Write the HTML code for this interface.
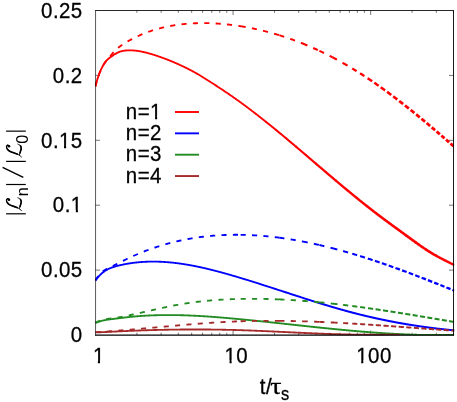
<!DOCTYPE html>
<html><head><meta charset="utf-8"><title>plot</title>
<style>html,body{margin:0;padding:0;background:#fff;width:457px;height:402px;overflow:hidden}</style></head>
<body>
<svg width="457" height="402" viewBox="0 0 457 402" style="position:absolute;left:0;top:0">
<rect width="457" height="402" fill="#fff"/>
<defs><filter id="idf" filterUnits="userSpaceOnUse" x="0" y="0" width="457" height="402"><feOffset dx="0" dy="0"/></filter><clipPath id="cp"><rect x="95.0" y="8.5" width="359.4" height="327.1"/></clipPath></defs>
<path d="M95.50,270.10 h4.5 M453.50,270.10 h-4.5 M95.50,205.20 h4.5 M453.50,205.20 h-4.5 M95.50,140.30 h4.5 M453.50,140.30 h-4.5 M95.50,75.40 h4.5 M453.50,75.40 h-4.5 M136.92,335.00 v-2.3 M136.92,10.50 v2.3 M161.14,335.00 v-2.3 M161.14,10.50 v2.3 M178.33,335.00 v-2.3 M178.33,10.50 v2.3 M191.67,335.00 v-2.3 M191.67,10.50 v2.3 M202.56,335.00 v-2.3 M202.56,10.50 v2.3 M211.77,335.00 v-2.3 M211.77,10.50 v2.3 M219.75,335.00 v-2.3 M219.75,10.50 v2.3 M226.79,335.00 v-2.3 M226.79,10.50 v2.3 M233.08,335.00 v-4.5 M233.08,10.50 v4.5 M274.50,335.00 v-2.3 M274.50,10.50 v2.3 M298.73,335.00 v-2.3 M298.73,10.50 v2.3 M315.92,335.00 v-2.3 M315.92,10.50 v2.3 M329.25,335.00 v-2.3 M329.25,10.50 v2.3 M340.14,335.00 v-2.3 M340.14,10.50 v2.3 M349.35,335.00 v-2.3 M349.35,10.50 v2.3 M357.33,335.00 v-2.3 M357.33,10.50 v2.3 M364.37,335.00 v-2.3 M364.37,10.50 v2.3 M370.67,335.00 v-4.5 M370.67,10.50 v4.5 M412.08,335.00 v-2.3 M412.08,10.50 v2.3 M436.31,335.00 v-2.3 M436.31,10.50 v2.3 M453.50,335.00 v-2.3 M453.50,10.50 v2.3" stroke="#000" stroke-width="0.55" fill="none"/>
<g clip-path="url(#cp)">
<path d="M95.50,86.41 L95.50,86.41 L95.90,84.71 L96.30,83.12 L96.70,81.62 L97.10,80.21 L97.50,78.89 L97.90,77.64 L98.29,76.46 L98.69,75.33 L99.09,74.26 L99.49,73.23 L99.89,72.24 L100.29,71.28 L100.69,70.36 L101.09,69.48 L101.49,68.63 L101.89,67.81 L102.29,67.02 L102.69,66.27 L103.09,65.55 L103.48,64.86 L103.88,64.21 L104.28,63.58 L104.68,62.99 L105.08,62.43 L105.48,61.89 L105.88,61.38 L106.10,61.12 M105.50,61.87 L105.88,61.38 L106.28,60.90 L106.68,60.45 L107.08,60.02 L107.48,59.62 L107.88,59.24 L108.28,58.89 L108.67,58.55 L109.07,58.22 L109.47,57.91 L109.87,57.60 L110.27,57.30 L110.67,57.01 L111.07,56.72 L111.47,56.43 L111.87,56.15 L112.27,55.88 L112.67,55.61 L113.07,55.35 L113.46,55.09 L113.86,54.83 L114.26,54.58 L114.66,54.33 L115.06,54.09 L115.46,53.85 L115.86,53.62 L116.10,53.48 M115.50,53.83 L115.86,53.62 L116.26,53.39 L116.66,53.17 L117.06,52.95 L117.46,52.74 L117.86,52.55 L118.26,52.36 L118.65,52.19 L119.05,52.02 L119.45,51.87 L119.85,51.72 L120.25,51.59 L120.65,51.46 L121.05,51.34 L121.45,51.24 L121.85,51.13 L122.25,51.04 L122.65,50.96 L123.05,50.88 L123.45,50.81 L123.84,50.74 L124.24,50.68 L124.64,50.63 L125.04,50.58 L125.44,50.54 L125.84,50.51 L126.10,50.48 M125.50,50.54 L125.84,50.51 L126.24,50.47 L126.64,50.44 L127.04,50.42 L127.44,50.40 L127.84,50.38 L128.24,50.37 L128.64,50.36 L129.03,50.35 L129.43,50.34 L129.83,50.34 L130.23,50.35 L130.63,50.35 L131.03,50.36 L131.43,50.37 L131.83,50.39 L132.23,50.40 L132.63,50.42 L133.03,50.45 L133.43,50.48 L133.83,50.50 L134.22,50.54 L134.62,50.57 L135.02,50.61 L135.42,50.65 L135.82,50.70 L136.10,50.73 M135.50,50.66 L135.82,50.70 L136.22,50.74 L136.62,50.79 L137.02,50.84 L137.42,50.90 L137.82,50.95 L138.22,51.01 L138.62,51.07 L139.02,51.14 L139.41,51.20 L139.81,51.27 L140.21,51.34 L140.61,51.41 L141.01,51.49 L141.41,51.57 L141.81,51.65 L142.21,51.73 L142.61,51.81 L143.01,51.90 L143.41,51.98 L143.81,52.07 L144.21,52.16 L144.60,52.26 L145.00,52.35 L145.40,52.45 L145.80,52.55 L146.10,52.62 M145.50,52.47 L145.80,52.55 L146.20,52.65 L146.60,52.75 L147.00,52.85 L147.40,52.96 L147.80,53.07 L148.20,53.17 L148.60,53.28 L149.00,53.39 L149.39,53.51 L149.79,53.62 L150.19,53.74 L150.59,53.85 L150.99,53.97 L151.39,54.09 L151.79,54.21 L152.19,54.33 L152.59,54.45 L152.99,54.57 L153.39,54.70 L153.79,54.82 L154.19,54.95 L154.58,55.08 L154.98,55.21 L155.38,55.33 L155.78,55.46 L156.10,55.57 M155.50,55.37 L155.78,55.46 L156.18,55.59 L156.58,55.73 L156.98,55.86 L157.38,55.99 L157.78,56.13 L158.18,56.26 L158.58,56.40 L158.98,56.53 L159.38,56.67 L159.77,56.81 L160.17,56.95 L160.57,57.09 L160.97,57.23 L161.37,57.38 L161.77,57.52 L162.17,57.66 L162.57,57.81 L162.97,57.95 L163.37,58.10 L163.77,58.25 L164.17,58.40 L164.57,58.55 L164.96,58.70 L165.36,58.85 L165.76,59.00 L166.10,59.13 M165.50,58.90 L165.76,59.00 L166.16,59.15 L166.56,59.31 L166.96,59.46 L167.36,59.62 L167.76,59.77 L168.16,59.93 L168.56,60.09 L168.96,60.25 L169.36,60.41 L169.76,60.57 L170.15,60.73 L170.55,60.89 L170.95,61.05 L171.35,61.22 L171.75,61.38 L172.15,61.55 L172.55,61.72 L172.95,61.88 L173.35,62.05 L173.75,62.22 L174.15,62.39 L174.55,62.56 L174.95,62.74 L175.34,62.91 L175.74,63.08 L176.10,63.24 M175.50,62.98 L175.74,63.08 L176.14,63.26 L176.54,63.43 L176.94,63.61 L177.34,63.79 L177.74,63.96 L178.14,64.14 L178.54,64.32 L178.94,64.50 L179.34,64.68 L179.74,64.86 L180.13,65.05 L180.53,65.23 L180.93,65.42 L181.33,65.60 L181.73,65.79 L182.13,65.97 L182.53,66.16 L182.93,66.35 L183.33,66.54 L183.73,66.73 L184.13,66.92 L184.53,67.12 L184.93,67.31 L185.32,67.50 L185.72,67.70 L186.10,67.88 M185.50,67.59 L185.72,67.70 L186.12,67.90 L186.52,68.09 L186.92,68.29 L187.32,68.49 L187.72,68.69 L188.12,68.89 L188.52,69.10 L188.92,69.30 L189.32,69.50 L189.72,69.71 L190.12,69.92 L190.51,70.13 L190.91,70.33 L191.31,70.55 L191.71,70.76 L192.11,70.97 L192.51,71.18 L192.91,71.40 L193.31,71.62 L193.71,71.83 L194.11,72.05 L194.51,72.27 L194.91,72.49 L195.31,72.72 L195.70,72.94 L196.10,73.16 M195.50,72.83 L195.70,72.94 L196.10,73.17 L196.50,73.39 L196.90,73.62 L197.30,73.85 L197.70,74.08 L198.10,74.31 L198.50,74.55 L198.90,74.78 L199.30,75.02 L199.70,75.26 L200.10,75.50 L200.50,75.74 L200.89,75.98 L201.29,76.22 L201.69,76.47 L202.09,76.71 L202.49,76.96 L202.89,77.20 L203.29,77.45 L203.69,77.70 L204.09,77.95 L204.49,78.20 L204.89,78.45 L205.29,78.70 L205.69,78.96 L206.08,79.21 L206.10,79.22 M205.50,78.84 L205.69,78.96 L206.08,79.21 L206.48,79.46 L206.88,79.72 L207.28,79.97 L207.68,80.22 L208.08,80.48 L208.48,80.73 L208.88,80.99 L209.28,81.24 L209.68,81.50 L210.08,81.75 L210.48,82.01 L210.87,82.27 L211.27,82.52 L211.67,82.78 L212.07,83.03 L212.47,83.29 L212.87,83.55 L213.27,83.81 L213.67,84.06 L214.07,84.32 L214.47,84.58 L214.87,84.84 L215.27,85.10 L215.67,85.36 L216.06,85.62 L216.10,85.64 M215.50,85.25 L215.67,85.36 L216.06,85.62 L216.46,85.88 L216.86,86.14 L217.26,86.40 L217.66,86.66 L218.06,86.92 L218.46,87.18 L218.86,87.44 L219.26,87.70 L219.66,87.97 L220.06,88.23 L220.46,88.49 L220.86,88.76 L221.25,89.02 L221.65,89.28 L222.05,89.55 L222.45,89.81 L222.85,90.08 L223.25,90.35 L223.65,90.61 L224.05,90.88 L224.45,91.15 L224.85,91.41 L225.25,91.68 L225.65,91.95 L226.05,92.22 L226.10,92.26 M225.50,91.85 L225.65,91.95 L226.05,92.22 L226.44,92.49 L226.84,92.76 L227.24,93.03 L227.64,93.30 L228.04,93.57 L228.44,93.85 L228.84,94.12 L229.24,94.39 L229.64,94.67 L230.04,94.94 L230.44,95.21 L230.84,95.49 L231.24,95.77 L231.63,96.04 L232.03,96.32 L232.43,96.60 L232.83,96.87 L233.23,97.15 L233.63,97.43 L234.03,97.71 L234.43,97.99 L234.83,98.27 L235.23,98.55 L235.63,98.84 L236.03,99.12 L236.10,99.17 M235.50,98.75 L235.63,98.84 L236.03,99.12 L236.43,99.40 L236.82,99.69 L237.22,99.97 L237.62,100.26 L238.02,100.54 L238.42,100.83 L238.82,101.12 L239.22,101.40 L239.62,101.69 L240.02,101.98 L240.42,102.27 L240.82,102.56 L241.22,102.85 L241.62,103.14 L242.01,103.43 L242.41,103.72 L242.81,104.01 L243.21,104.31 L243.61,104.60 L244.01,104.90 L244.41,105.19 L244.81,105.49 L245.21,105.78 L245.61,106.08 L246.01,106.37 L246.10,106.44 M245.50,106.00 L245.61,106.08 L246.01,106.37 L246.41,106.67 L246.80,106.97 L247.20,107.27 L247.60,107.57 L248.00,107.87 L248.40,108.17 L248.80,108.47 L249.20,108.77 L249.60,109.07 L250.00,109.37 L250.40,109.67 L250.80,109.98 L251.20,110.28 L251.60,110.58 L251.99,110.89 L252.39,111.19 L252.79,111.50 L253.19,111.80 L253.59,112.11 L253.99,112.42 L254.39,112.72 L254.79,113.03 L255.19,113.34 L255.59,113.65 L255.99,113.96 L256.10,114.04" stroke="#ff0000" stroke-width="1.85" fill="none" stroke-linejoin="round"/>
<path d="M255.50,113.58 L255.59,113.65 L255.99,113.96 L256.39,114.26 L256.79,114.57 L257.18,114.88 L257.58,115.20 L257.98,115.51 L258.38,115.82 L258.78,116.13 L259.18,116.44 L259.58,116.76 L259.98,117.07 L260.38,117.38 L260.78,117.70 L261.18,118.01 L261.58,118.33 L261.98,118.64 L262.37,118.96 L262.77,119.27 L263.17,119.59 L263.57,119.91 L263.97,120.22 L264.37,120.54 L264.77,120.86 L265.17,121.18 L265.57,121.50 L265.97,121.82 L266.10,121.92" stroke="#ff0000" stroke-width="1.90" fill="none" stroke-linejoin="round"/>
<path d="M265.50,121.44 L265.57,121.50 L265.97,121.82 L266.37,122.13 L266.77,122.45 L267.17,122.77 L267.56,123.10 L267.96,123.42 L268.36,123.74 L268.76,124.06 L269.16,124.38 L269.56,124.70 L269.96,125.03 L270.36,125.35 L270.76,125.67 L271.16,126.00 L271.56,126.32 L271.96,126.64 L272.36,126.97 L272.75,127.29 L273.15,127.62 L273.55,127.95 L273.95,128.27 L274.35,128.60 L274.75,128.92 L275.15,129.25 L275.55,129.58 L275.95,129.91 L276.10,130.03" stroke="#ff0000" stroke-width="1.95" fill="none" stroke-linejoin="round"/>
<path d="M275.50,129.54 L275.55,129.58 L275.95,129.91 L276.35,130.23 L276.75,130.56 L277.15,130.89 L277.54,131.22 L277.94,131.55 L278.34,131.88 L278.74,132.21 L279.14,132.54 L279.54,132.87 L279.94,133.20 L280.34,133.53 L280.74,133.86 L281.14,134.19 L281.54,134.52 L281.94,134.85 L282.34,135.18 L282.73,135.51 L283.13,135.85 L283.53,136.18 L283.93,136.51 L284.33,136.84 L284.73,137.18 L285.13,137.51 L285.53,137.84 L285.93,138.18 L286.10,138.32" stroke="#ff0000" stroke-width="2.00" fill="none" stroke-linejoin="round"/>
<path d="M285.50,137.82 L285.53,137.84 L285.93,138.18 L286.33,138.51 L286.73,138.85 L287.13,139.18 L287.53,139.52 L287.92,139.85 L288.32,140.19 L288.72,140.52 L289.12,140.86 L289.52,141.19 L289.92,141.53 L290.32,141.86 L290.72,142.20 L291.12,142.54 L291.52,142.87 L291.92,143.21 L292.32,143.55 L292.72,143.88 L293.11,144.22 L293.51,144.56 L293.91,144.90 L294.31,145.23 L294.71,145.57 L295.11,145.91 L295.51,146.25 L295.91,146.59 L296.10,146.75" stroke="#ff0000" stroke-width="2.05" fill="none" stroke-linejoin="round"/>
<path d="M295.50,146.24 L295.51,146.25 L295.91,146.59 L296.31,146.92 L296.71,147.26 L297.11,147.60 L297.51,147.94 L297.91,148.28 L298.30,148.62 L298.70,148.96 L299.10,149.30 L299.50,149.64 L299.90,149.98 L300.30,150.32 L300.70,150.66 L301.10,151.00 L301.50,151.34 L301.90,151.68 L302.30,152.02 L302.70,152.36 L303.10,152.70 L303.49,153.04 L303.89,153.38 L304.29,153.72 L304.69,154.06 L305.09,154.40 L305.49,154.74 L305.89,155.08 L306.10,155.26" stroke="#ff0000" stroke-width="2.10" fill="none" stroke-linejoin="round"/>
<path d="M305.50,154.75 L305.89,155.08 L306.29,155.42 L306.69,155.76 L307.09,156.10 L307.49,156.44 L307.89,156.79 L308.28,157.13 L308.68,157.47 L309.08,157.81 L309.48,158.15 L309.88,158.49 L310.28,158.83 L310.68,159.18 L311.08,159.52 L311.48,159.86 L311.88,160.20 L312.28,160.54 L312.68,160.88 L313.08,161.22 L313.47,161.57 L313.87,161.91 L314.27,162.25 L314.67,162.59 L315.07,162.93 L315.47,163.27 L315.87,163.61 L316.10,163.81" stroke="#ff0000" stroke-width="2.15" fill="none" stroke-linejoin="round"/>
<path d="M315.50,163.30 L315.87,163.61 L316.27,163.96 L316.67,164.30 L317.07,164.64 L317.47,164.98 L317.87,165.32 L318.27,165.66 L318.66,166.00 L319.06,166.35 L319.46,166.69 L319.86,167.03 L320.26,167.37 L320.66,167.71 L321.06,168.05 L321.46,168.39 L321.86,168.73 L322.26,169.07 L322.66,169.42 L323.06,169.76 L323.46,170.10 L323.85,170.44 L324.25,170.78 L324.65,171.12 L325.05,171.46 L325.45,171.80 L325.85,172.14 L326.10,172.35" stroke="#ff0000" stroke-width="2.25" fill="none" stroke-linejoin="round"/>
<path d="M325.50,171.84 L325.85,172.14 L326.25,172.48 L326.65,172.82 L327.05,173.16 L327.45,173.50 L327.85,173.84 L328.25,174.18 L328.65,174.52 L329.04,174.86 L329.44,175.20 L329.84,175.54 L330.24,175.88 L330.64,176.21 L331.04,176.55 L331.44,176.89 L331.84,177.23 L332.24,177.57 L332.64,177.91 L333.04,178.25 L333.44,178.58 L333.84,178.92 L334.23,179.26 L334.63,179.60 L335.03,179.93 L335.43,180.27 L335.83,180.61 L336.10,180.83" stroke="#ff0000" stroke-width="2.30" fill="none" stroke-linejoin="round"/>
<path d="M335.50,180.33 L335.83,180.61 L336.23,180.94 L336.63,181.28 L337.03,181.62 L337.43,181.95 L337.83,182.29 L338.23,182.63 L338.63,182.96 L339.03,183.30 L339.42,183.63 L339.82,183.97 L340.22,184.30 L340.62,184.64 L341.02,184.97 L341.42,185.31 L341.82,185.64 L342.22,185.98 L342.62,186.31 L343.02,186.64 L343.42,186.98 L343.82,187.31 L344.21,187.64 L344.61,187.98 L345.01,188.31 L345.41,188.64 L345.81,188.97 L346.10,189.21" stroke="#ff0000" stroke-width="2.35" fill="none" stroke-linejoin="round"/>
<path d="M345.50,188.71 L345.81,188.97 L346.21,189.30 L346.61,189.64 L347.01,189.97 L347.41,190.30 L347.81,190.63 L348.21,190.96 L348.61,191.29 L349.01,191.62 L349.40,191.95 L349.80,192.28 L350.20,192.61 L350.60,192.94 L351.00,193.26 L351.40,193.59 L351.80,193.92 L352.20,194.25 L352.60,194.58 L353.00,194.90 L353.40,195.23 L353.80,195.56 L354.20,195.88 L354.59,196.21 L354.99,196.53 L355.39,196.86 L355.79,197.18 L356.10,197.43 M445.50,260.67 L445.62,260.73 L446.02,260.93 L446.42,261.13 L446.81,261.33 L447.21,261.53 L447.61,261.73 L448.01,261.93 L448.41,262.13 L448.81,262.33 L449.21,262.53 L449.61,262.73 L450.01,262.92 L450.41,263.12 L450.81,263.32 L451.21,263.52 L451.61,263.72 L452.00,263.92 L452.40,264.12 L452.80,264.32 L453.20,264.51 L453.60,264.71 L454.00,264.91 L454.40,265.12 L454.40,265.12" stroke="#ff0000" stroke-width="2.40" fill="none" stroke-linejoin="round"/>
<path d="M355.50,196.95 L355.79,197.18 L356.19,197.51 L356.59,197.83 L356.99,198.16 L357.39,198.48 L357.79,198.80 L358.19,199.13 L358.59,199.45 L358.99,199.77 L359.39,200.09 L359.78,200.42 L360.18,200.74 L360.58,201.06 L360.98,201.38 L361.38,201.70 L361.78,202.02 L362.18,202.34 L362.58,202.66 L362.98,202.98 L363.38,203.30 L363.78,203.61 L364.18,203.93 L364.58,204.25 L364.97,204.57 L365.37,204.88 L365.77,205.20 L366.10,205.46 M435.50,255.37 L435.64,255.45 L436.04,255.68 L436.44,255.90 L436.83,256.12 L437.23,256.34 L437.63,256.56 L438.03,256.78 L438.43,257.00 L438.83,257.21 L439.23,257.43 L439.63,257.64 L440.03,257.85 L440.43,258.06 L440.83,258.27 L441.23,258.48 L441.62,258.69 L442.02,258.90 L442.42,259.10 L442.82,259.31 L443.22,259.52 L443.62,259.72 L444.02,259.92 L444.42,260.13 L444.82,260.33 L445.22,260.53 L445.62,260.73 L446.02,260.93 L446.10,260.97" stroke="#ff0000" stroke-width="2.45" fill="none" stroke-linejoin="round"/>
<path d="M365.50,204.98 L365.77,205.20 L366.17,205.52 L366.57,205.83 L366.97,206.15 L367.37,206.46 L367.77,206.78 L368.17,207.09 L368.57,207.40 L368.97,207.72 L369.37,208.03 L369.77,208.34 L370.16,208.65 L370.56,208.97 L370.96,209.28 L371.36,209.59 L371.76,209.90 L372.16,210.21 L372.56,210.52 L372.96,210.83 L373.36,211.14 L373.76,211.45 L374.16,211.75 L374.56,212.06 L374.95,212.37 L375.35,212.68 L375.75,212.98 L376.10,213.25" stroke="#ff0000" stroke-width="2.50" fill="none" stroke-linejoin="round"/>
<path d="M375.50,212.79 L375.75,212.98 L376.15,213.29 L376.55,213.59 L376.95,213.90 L377.35,214.20 L377.75,214.51 L378.15,214.81 L378.55,215.11 L378.95,215.42 L379.35,215.72 L379.75,216.02 L380.14,216.32 L380.54,216.62 L380.94,216.92 L381.34,217.22 L381.74,217.52 L382.14,217.82 L382.54,218.12 L382.94,218.42 L383.34,218.72 L383.74,219.02 L384.14,219.31 L384.54,219.61 L384.94,219.91 L385.33,220.20 L385.73,220.50 L386.10,220.77 M385.50,220.33 L385.73,220.50 L386.13,220.80 L386.53,221.09 L386.93,221.39 L387.33,221.68 L387.73,221.98 L388.13,222.27 L388.53,222.57 L388.93,222.86 L389.33,223.15 L389.73,223.45 L390.13,223.74 L390.52,224.03 L390.92,224.33 L391.32,224.62 L391.72,224.91 L392.12,225.21 L392.52,225.50 L392.92,225.79 L393.32,226.08 L393.72,226.37 L394.12,226.67 L394.52,226.96 L394.92,227.25 L395.32,227.54 L395.71,227.83 L396.10,228.11 M425.50,249.20 L425.66,249.30 L426.06,249.57 L426.45,249.83 L426.85,250.09 L427.25,250.35 L427.65,250.61 L428.05,250.87 L428.45,251.12 L428.85,251.38 L429.25,251.63 L429.65,251.88 L430.05,252.13 L430.45,252.38 L430.85,252.62 L431.25,252.87 L431.64,253.11 L432.04,253.35 L432.44,253.59 L432.84,253.83 L433.24,254.07 L433.64,254.30 L434.04,254.54 L434.44,254.77 L434.84,255.00 L435.24,255.22 L435.64,255.45 L436.04,255.68 L436.10,255.71" stroke="#ff0000" stroke-width="2.55" fill="none" stroke-linejoin="round"/>
<path d="M395.50,227.67 L395.71,227.83 L396.11,228.12 L396.51,228.41 L396.91,228.70 L397.31,228.99 L397.71,229.29 L398.11,229.58 L398.51,229.87 L398.91,230.16 L399.31,230.45 L399.71,230.74 L400.11,231.03 L400.51,231.32 L400.90,231.61 L401.30,231.90 L401.70,232.19 L402.10,232.48 L402.50,232.78 L402.90,233.07 L403.30,233.36 L403.70,233.65 L404.10,233.94 L404.50,234.23 L404.90,234.52 L405.30,234.81 L405.69,235.11 L406.09,235.40 L406.10,235.40 M415.50,242.25 L415.68,242.38 L416.07,242.66 L416.47,242.95 L416.87,243.23 L417.27,243.52 L417.67,243.80 L418.07,244.09 L418.47,244.37 L418.87,244.65 L419.27,244.93 L419.67,245.21 L420.07,245.49 L420.47,245.77 L420.87,246.05 L421.26,246.33 L421.66,246.60 L422.06,246.88 L422.46,247.15 L422.86,247.42 L423.26,247.70 L423.66,247.97 L424.06,248.24 L424.46,248.51 L424.86,248.77 L425.26,249.04 L425.66,249.30 L426.06,249.57 L426.10,249.60" stroke="#ff0000" stroke-width="2.60" fill="none" stroke-linejoin="round"/>
<path d="M405.50,234.96 L405.69,235.11 L406.09,235.40 L406.49,235.69 L406.89,235.98 L407.29,236.27 L407.69,236.57 L408.09,236.86 L408.49,237.15 L408.89,237.44 L409.29,237.73 L409.69,238.03 L410.09,238.32 L410.49,238.61 L410.88,238.90 L411.28,239.19 L411.68,239.48 L412.08,239.78 L412.48,240.07 L412.88,240.36 L413.28,240.65 L413.68,240.94 L414.08,241.22 L414.48,241.51 L414.88,241.80 L415.28,242.09 L415.68,242.38 L416.07,242.66 L416.10,242.68" stroke="#ff0000" stroke-width="2.65" fill="none" stroke-linejoin="round"/>
<path d="M95.50,86.41 L95.65,85.79 L95.79,85.17 L95.94,84.55 L96.10,83.93 L96.25,83.32 L96.41,82.70 L96.58,82.08 L96.74,81.47 M98.63,75.46 L98.85,74.86 L99.07,74.26 L99.30,73.67 L99.53,73.07 L99.76,72.48 L100.01,71.89 L100.25,71.30 L100.50,70.72 M103.32,65.09 L103.65,64.54 L103.98,64.00 L104.33,63.46 L104.68,62.93 L105.04,62.40 L105.41,61.88 L105.79,61.37 L106.17,60.86 M110.23,56.05 L110.65,55.57 L111.07,55.09 L111.49,54.61 L111.91,54.13 L112.34,53.65 L112.76,53.18 L113.19,52.71 L113.62,52.24 M118.16,47.87 L118.65,47.46 L119.14,47.06 L119.64,46.66 L120.15,46.28 L120.66,45.90 L121.18,45.52 L121.70,45.15 L122.22,44.79 M127.58,41.49 L128.14,41.17 L128.69,40.86 L129.25,40.55 L129.81,40.24 L130.37,39.94 L130.93,39.64 L131.49,39.34 L132.06,39.04 M137.71,36.26 L138.29,35.99 L138.87,35.73 L139.45,35.47 L140.03,35.21 L140.62,34.95 L141.20,34.70 L141.79,34.45 L142.38,34.20 M148.25,31.92 L148.85,31.71 L149.45,31.50 L150.05,31.29 L150.65,31.08 L151.26,30.88 L151.86,30.68 L152.47,30.48 L153.08,30.28 M159.12,28.51 L159.74,28.35 L160.36,28.19 L160.97,28.03 L161.59,27.88 L162.21,27.72 L162.83,27.57 L163.45,27.43 L164.07,27.28 M170.24,26.00 L170.87,25.89 L171.49,25.78 L172.12,25.67 L172.75,25.56 L173.38,25.45 L174.01,25.35 L174.64,25.25 L175.27,25.15 M181.51,24.32 L182.15,24.25 L182.78,24.18 L183.41,24.11 L184.05,24.05 L184.68,23.98 L185.32,23.92 L185.95,23.86 L186.59,23.81 M192.87,23.37 L193.51,23.34 L194.14,23.31 L194.78,23.28 L195.42,23.25 L196.06,23.23 L196.69,23.21 L197.33,23.19 L197.97,23.17 M204.27,23.10 L204.90,23.10 L205.54,23.11 L206.18,23.12 L206.82,23.13 L207.45,23.14 L208.09,23.15 L208.73,23.17 L209.37,23.19 M215.66,23.46 L216.30,23.50 L216.93,23.54 L217.57,23.58 L218.20,23.63 L218.84,23.67 L219.48,23.72 L220.11,23.77 L220.75,23.82 M227.02,24.40 L227.65,24.47 L228.29,24.54 L228.92,24.61 L229.55,24.69 L230.19,24.76 L230.82,24.84 L231.45,24.92 L232.08,25.00 M238.33,25.86 L238.91,25.95 L239.49,26.04 L240.07,26.13 L240.65,26.22 M240.65,26.22 L241.28,26.32 L241.91,26.42 L242.54,26.53 L243.17,26.63 L243.79,26.74 L244.42,26.85 L245.05,26.96 L245.68,27.07 M251.87,28.25 L252.49,28.37 L253.12,28.50 L253.74,28.63 L254.36,28.76 L254.99,28.89 L255.61,29.03 L256.23,29.16 L256.86,29.30 M262.99,30.73 L263.61,30.88 L264.23,31.04 L264.85,31.19 L265.47,31.35 L266.08,31.51 L266.70,31.66 L267.32,31.83 L267.94,31.99" stroke="#ff0000" stroke-width="1.85" fill="none"/>
<path d="M274.01,33.66 L274.62,33.84 L275.23,34.02 L275.84,34.20 L276.46,34.38 L277.07,34.56 L277.68,34.74 L278.29,34.93 L278.90,35.12 M279.37,35.26 L279.98,35.45 L280.59,35.64 L281.20,35.83 L281.81,36.03 L282.42,36.22 L283.02,36.41 L283.63,36.61 L284.23,36.81" stroke="#ff0000" stroke-width="1.90" fill="none"/>
<path d="M290.20,38.84 L290.80,39.05 L291.40,39.26 L292.00,39.48 L292.60,39.69 L293.20,39.91 L293.80,40.13 L294.40,40.35 L295.00,40.57" stroke="#ff0000" stroke-width="1.95" fill="none"/>
<path d="M300.88,42.82 L301.48,43.05 L302.08,43.29 L302.68,43.53 M302.68,43.53 L303.27,43.77 L303.86,44.01 L304.45,44.25 L305.04,44.49 L305.63,44.73 L306.22,44.98 L306.81,45.22 L307.39,45.47" stroke="#ff0000" stroke-width="2.00" fill="none"/>
<path d="M313.18,47.97 L313.76,48.23 L314.34,48.49 L314.92,48.75 L315.50,49.01 L316.08,49.28 L316.66,49.54 L317.24,49.81 L317.82,50.07 M319.40,50.81 L319.98,51.08 L320.55,51.35 L321.13,51.63 L321.70,51.90 L322.28,52.18 L322.85,52.45 L323.43,52.73 L324.00,53.01" stroke="#ff0000" stroke-width="2.05" fill="none"/>
<path d="M329.63,55.82 L330.20,56.11 L330.76,56.40 L331.32,56.69 L331.89,56.99 L332.45,57.28" stroke="#ff0000" stroke-width="2.10" fill="none"/>
<path d="M332.45,57.28 L333.01,57.57 L333.58,57.87 L334.14,58.17 L334.70,58.47 L335.27,58.77 L335.83,59.07 L336.39,59.37 L336.95,59.67" stroke="#ff0000" stroke-width="2.15" fill="none"/>
<path d="M342.47,62.72 L342.81,62.92 L343.15,63.11 M343.15,63.11 L343.71,63.43 L344.26,63.74 L344.82,64.06 L345.37,64.38 L345.92,64.70 L346.47,65.01 L347.02,65.34 L347.57,65.66" stroke="#ff0000" stroke-width="2.20" fill="none"/>
<path d="M352.23,68.43 L352.77,68.76 L353.32,69.09 L353.86,69.42 L354.41,69.76 L354.95,70.09 L355.49,70.42 L356.03,70.76 L356.58,71.10" stroke="#ff0000" stroke-width="2.25" fill="none"/>
<path d="M360.11,73.32 L360.64,73.66 L361.18,74.01 L361.72,74.35 L362.25,74.70 L362.79,75.04 L363.32,75.39 L363.86,75.74 L364.39,76.09" stroke="#ff0000" stroke-width="2.35" fill="none"/>
<path d="M367.56,78.18 L368.13,78.56 L368.70,78.94 L369.27,79.33 L369.84,79.71 L370.41,80.09 L370.98,80.48 L371.54,80.86 L372.11,81.25" stroke="#ff0000" stroke-width="2.40" fill="none"/>
<path d="M374.25,82.72 L374.81,83.10 L375.36,83.48 L375.91,83.87 L376.46,84.25 L377.02,84.64 L377.57,85.03 L378.12,85.41 L378.67,85.80" stroke="#ff0000" stroke-width="2.45" fill="none"/>
<path d="M380.75,87.28 L381.29,87.66 L381.83,88.05 L382.37,88.43 L382.90,88.82 L383.44,89.21 L383.98,89.59 L384.51,89.98 L385.05,90.37" stroke="#ff0000" stroke-width="2.50" fill="none"/>
<path d="M387.07,91.85 L387.59,92.23 L388.12,92.62 L388.64,93.00 L389.16,93.39 L389.69,93.77 L390.21,94.16 L390.73,94.55 L391.25,94.94" stroke="#ff0000" stroke-width="2.55" fill="none"/>
<path d="M393.22,96.41 L393.72,96.79 L394.23,97.18 L394.74,97.56 L395.25,97.95 L395.76,98.33 L396.26,98.72 L396.77,99.11 L397.28,99.49" stroke="#ff0000" stroke-width="2.60" fill="none"/>
<path d="M399.19,100.96 L399.68,101.34 L400.18,101.72 L400.67,102.10 L401.17,102.49 L401.66,102.87 L402.15,103.25 L402.65,103.64 L403.14,104.02" stroke="#ff0000" stroke-width="2.65" fill="none"/>
<path d="M405.00,105.47 L405.55,105.91 L406.10,106.34 L406.65,106.77 L407.19,107.21 L407.74,107.64 L408.29,108.08 L408.84,108.51 M410.64,109.95 L411.18,110.38 L411.71,110.81 L412.25,111.24 L412.78,111.67 L413.31,112.10 L413.85,112.53 L414.38,112.96" stroke="#ff0000" stroke-width="2.70" fill="none"/>
<path d="M416.13,114.38 L416.65,114.80 L417.17,115.23 L417.69,115.65 L418.21,116.07 L418.73,116.50 L419.25,116.92 L419.76,117.35 M421.47,118.75 L421.98,119.17 L422.48,119.59 L422.99,120.01 L423.49,120.42 L423.99,120.84 L424.50,121.26 L425.00,121.68 M426.66,123.07 L427.15,123.48 L427.64,123.89 L428.13,124.30 L428.62,124.71 L429.11,125.12 L429.60,125.53 L430.09,125.95" stroke="#ff0000" stroke-width="2.75" fill="none"/>
<path d="M431.71,127.31 L432.18,127.71 L432.66,128.12 L433.14,128.52 L433.61,128.93 L434.09,129.33 L434.57,129.74 L435.04,130.14 M436.61,131.48 L437.08,131.88 L437.54,132.27 L438.00,132.67 L438.47,133.07 L438.93,133.47 L439.39,133.86 L439.85,134.26 M441.38,135.58 L441.91,136.03 L442.43,136.48 L442.96,136.94 L443.48,137.39 L444.01,137.85 L444.53,138.30" stroke="#ff0000" stroke-width="2.80" fill="none"/>
<path d="M446.02,139.59 L446.53,140.04 L447.04,140.48 L447.55,140.93 L448.06,141.37 L448.57,141.82 L449.08,142.27 M450.52,143.53 L451.02,143.96 L451.52,144.40 L452.02,144.84 L452.51,145.27 L453.01,145.71 L453.50,146.14" stroke="#ff0000" stroke-width="2.85" fill="none"/>
<path d="M95.50,280.65 L95.50,280.65 L95.90,280.08 L96.30,279.52 L96.70,278.98 L97.10,278.45 L97.50,277.94 L97.90,277.44 L98.29,276.97 L98.69,276.50 L99.09,276.05 L99.49,275.61 L99.89,275.19 L100.29,274.78 L100.69,274.39 L101.09,274.00 L101.49,273.63 L101.89,273.28 L102.29,272.93 L102.69,272.60 L103.09,272.28 L103.48,271.97 L103.88,271.67 L104.28,271.38 L104.68,271.11 L105.08,270.84 L105.48,270.58 L105.88,270.34 L106.10,270.20 M105.50,270.57 L105.88,270.34 L106.28,270.10 L106.68,269.87 L107.08,269.65 L107.48,269.43 L107.88,269.23 L108.28,269.03 L108.67,268.84 L109.07,268.66 L109.47,268.48 L109.87,268.31 L110.27,268.15 L110.67,267.99 L111.07,267.83 L111.47,267.68 L111.87,267.54 L112.27,267.40 L112.67,267.26 L113.07,267.13 L113.46,267.00 L113.86,266.88 L114.26,266.76 L114.66,266.64 L115.06,266.52 L115.46,266.41 L115.86,266.30 L116.10,266.23 M115.50,266.40 L115.86,266.30 L116.26,266.19 L116.66,266.08 L117.06,265.97 L117.46,265.86 L117.86,265.76 L118.26,265.66 L118.65,265.56 L119.05,265.46 L119.45,265.36 L119.85,265.27 L120.25,265.17 L120.65,265.08 L121.05,264.99 L121.45,264.90 L121.85,264.81 L122.25,264.73 L122.65,264.64 L123.05,264.56 L123.45,264.48 L123.84,264.40 L124.24,264.32 L124.64,264.24 L125.04,264.16 L125.44,264.09 L125.84,264.01 L126.10,263.97 M125.50,264.08 L125.84,264.01 L126.24,263.94 L126.64,263.87 L127.04,263.80 L127.44,263.73 L127.84,263.66 L128.24,263.60 L128.64,263.53 L129.03,263.47 L129.43,263.40 L129.83,263.34 L130.23,263.28 L130.63,263.22 L131.03,263.16 L131.43,263.11 L131.83,263.05 L132.23,262.99 L132.63,262.94 L133.03,262.89 L133.43,262.84 L133.83,262.78 L134.22,262.74 L134.62,262.69 L135.02,262.64 L135.42,262.59 L135.82,262.55 L136.10,262.52 M135.50,262.58 L135.82,262.55 L136.22,262.50 L136.62,262.46 L137.02,262.42 L137.42,262.38 L137.82,262.34 L138.22,262.30 L138.62,262.26 L139.02,262.23 L139.41,262.19 L139.81,262.16 L140.21,262.13 L140.61,262.09 L141.01,262.06 L141.41,262.03 L141.81,262.00 L142.21,261.98 L142.61,261.95 L143.01,261.92 L143.41,261.90 L143.81,261.88 L144.21,261.85 L144.60,261.83 L145.00,261.81 L145.40,261.79 L145.80,261.77 L146.10,261.76 M145.50,261.79 L145.80,261.77 L146.20,261.76 L146.60,261.74 L147.00,261.72 L147.40,261.71 L147.80,261.70 L148.20,261.68 L148.60,261.67 L149.00,261.66 L149.39,261.65 L149.79,261.64 L150.19,261.64 L150.59,261.63 L150.99,261.62 L151.39,261.62 L151.79,261.61 L152.19,261.61 L152.59,261.61 L152.99,261.61 L153.39,261.61 L153.79,261.61 L154.19,261.61 L154.58,261.62 L154.98,261.62 L155.38,261.62 L155.78,261.63 L156.10,261.63 M155.50,261.63 L155.78,261.63 L156.18,261.64 L156.58,261.64 L156.98,261.65 L157.38,261.66 L157.78,261.67 L158.18,261.68 L158.58,261.70 L158.98,261.71 L159.38,261.72 L159.77,261.74 L160.17,261.75 L160.57,261.77 L160.97,261.79 L161.37,261.81 L161.77,261.82 L162.17,261.84 L162.57,261.87 L162.97,261.89 L163.37,261.91 L163.77,261.93 L164.17,261.96 L164.57,261.98 L164.96,262.01 L165.36,262.04 L165.76,262.06 L166.10,262.09 M165.50,262.05 L165.76,262.06 L166.16,262.09 L166.56,262.12 L166.96,262.15 L167.36,262.18 L167.76,262.21 L168.16,262.25 L168.56,262.28 L168.96,262.31 L169.36,262.35 L169.76,262.39 L170.15,262.42 L170.55,262.46 L170.95,262.50 L171.35,262.54 L171.75,262.58 L172.15,262.62 L172.55,262.66 L172.95,262.70 L173.35,262.74 L173.75,262.79 L174.15,262.83 L174.55,262.88 L174.95,262.92 L175.34,262.97 L175.74,263.02 L176.10,263.06 M175.50,262.99 L175.74,263.02 L176.14,263.06 L176.54,263.11 L176.94,263.16 L177.34,263.21 L177.74,263.26 L178.14,263.32 L178.54,263.37 L178.94,263.42 L179.34,263.48 L179.74,263.53 L180.13,263.59 L180.53,263.64 L180.93,263.70 L181.33,263.76 L181.73,263.81 L182.13,263.87 L182.53,263.93 L182.93,263.99 L183.33,264.05 L183.73,264.12 L184.13,264.18 L184.53,264.24 L184.93,264.30 L185.32,264.37 L185.72,264.43 L186.10,264.50 M185.50,264.40 L185.72,264.43 L186.12,264.50 L186.52,264.56 L186.92,264.63 L187.32,264.70 L187.72,264.77 L188.12,264.84 L188.52,264.91 L188.92,264.98 L189.32,265.05 L189.72,265.12 L190.12,265.19 L190.51,265.26 L190.91,265.33 L191.31,265.41 L191.71,265.48 L192.11,265.56 L192.51,265.63 L192.91,265.71 L193.31,265.78 L193.71,265.86 L194.11,265.94 L194.51,266.02 L194.91,266.10 L195.31,266.18 L195.70,266.26 L196.10,266.34 M195.50,266.22 L195.70,266.26 L196.10,266.34 L196.50,266.42 L196.90,266.50 L197.30,266.58 L197.70,266.66 L198.10,266.75 L198.50,266.83 L198.90,266.92 L199.30,267.00 L199.70,267.09 L200.10,267.17 L200.50,267.26 L200.89,267.35 L201.29,267.43 L201.69,267.52 L202.09,267.61 L202.49,267.70 L202.89,267.79 L203.29,267.88 L203.69,267.97 L204.09,268.06 L204.49,268.15 L204.89,268.24 L205.29,268.34 L205.69,268.43 L206.08,268.52 L206.10,268.53 M205.50,268.39 L205.69,268.43 L206.08,268.52 L206.48,268.62 L206.88,268.71 L207.28,268.81 L207.68,268.90 L208.08,269.00 L208.48,269.09 L208.88,269.19 L209.28,269.29 L209.68,269.38 L210.08,269.48 L210.48,269.58 L210.87,269.68 L211.27,269.78 L211.67,269.88 L212.07,269.98 L212.47,270.08 L212.87,270.18 L213.27,270.28 L213.67,270.38 L214.07,270.48 L214.47,270.59 L214.87,270.69 L215.27,270.79 L215.67,270.90 L216.06,271.00 L216.10,271.01 M215.50,270.85 L215.67,270.90 L216.06,271.00 L216.46,271.10 L216.86,271.21 L217.26,271.31 L217.66,271.42 L218.06,271.52 L218.46,271.63 L218.86,271.74 L219.26,271.84 L219.66,271.95 L220.06,272.06 L220.46,272.17 L220.86,272.27 L221.25,272.38 L221.65,272.49 L222.05,272.60 L222.45,272.71 L222.85,272.82 L223.25,272.93 L223.65,273.04 L224.05,273.15 L224.45,273.26 L224.85,273.37 L225.25,273.49 L225.65,273.60 L226.05,273.71 L226.10,273.72 M225.50,273.56 L225.65,273.60 L226.05,273.71 L226.44,273.82 L226.84,273.93 L227.24,274.05 L227.64,274.16 L228.04,274.27 L228.44,274.39 L228.84,274.50 L229.24,274.62 L229.64,274.73 L230.04,274.85 L230.44,274.96 L230.84,275.08 L231.24,275.19 L231.63,275.31 L232.03,275.42 L232.43,275.54 L232.83,275.66 L233.23,275.77 L233.63,275.89 L234.03,276.01 L234.43,276.13 L234.83,276.24 L235.23,276.36 L235.63,276.48 L236.03,276.60 L236.10,276.62 M235.50,276.44 L235.63,276.48 L236.03,276.60 L236.43,276.72 L236.82,276.83 L237.22,276.95 L237.62,277.07 L238.02,277.19 L238.42,277.31 L238.82,277.43 L239.22,277.55 L239.62,277.67 L240.02,277.79 L240.42,277.91 L240.82,278.03 L241.22,278.15 L241.62,278.27 L242.01,278.39 L242.41,278.51 L242.81,278.64 L243.21,278.76 L243.61,278.88 L244.01,279.00 L244.41,279.12 L244.81,279.25 L245.21,279.37 L245.61,279.49 L246.01,279.61 L246.10,279.64 M245.50,279.46 L245.61,279.49 L246.01,279.61 L246.41,279.74 L246.80,279.86 L247.20,279.98 L247.60,280.11 L248.00,280.23 L248.40,280.35 L248.80,280.48 L249.20,280.60 L249.60,280.72 L250.00,280.85 L250.40,280.97 L250.80,281.10 L251.20,281.22 L251.60,281.35 L251.99,281.47 L252.39,281.60 L252.79,281.72 L253.19,281.85 L253.59,281.97 L253.99,282.10 L254.39,282.22 L254.79,282.35 L255.19,282.47 L255.59,282.60 L255.99,282.73 L256.10,282.76 M255.50,282.57 L255.59,282.60 L255.99,282.73 L256.39,282.85 L256.79,282.98 L257.18,283.10 L257.58,283.23 L257.98,283.36 L258.38,283.48 L258.78,283.61 L259.18,283.74 L259.58,283.87 L259.98,283.99 L260.38,284.12 L260.78,284.25 L261.18,284.37 L261.58,284.50 L261.98,284.63 L262.37,284.76 L262.77,284.89 L263.17,285.01 L263.57,285.14 L263.97,285.27 L264.37,285.40 L264.77,285.53 L265.17,285.65 L265.57,285.78 L265.97,285.91 L266.10,285.95" stroke="#0000ff" stroke-width="1.85" fill="none" stroke-linejoin="round"/>
<path d="M265.50,285.76 L265.57,285.78 L265.97,285.91 L266.37,286.04 L266.77,286.17 L267.17,286.30 L267.56,286.43 L267.96,286.55 L268.36,286.68 L268.76,286.81 L269.16,286.94 L269.56,287.07 L269.96,287.20 L270.36,287.33 L270.76,287.46 L271.16,287.59 L271.56,287.72 L271.96,287.84 L272.36,287.97 L272.75,288.10 L273.15,288.23 L273.55,288.36 L273.95,288.49 L274.35,288.62 L274.75,288.75 L275.15,288.88 L275.55,289.01 L275.95,289.14 L276.10,289.19 M275.50,288.99 L275.55,289.01 L275.95,289.14 L276.35,289.27 L276.75,289.40 L277.15,289.53 L277.54,289.66 L277.94,289.79 L278.34,289.92 L278.74,290.05 L279.14,290.18 L279.54,290.31 L279.94,290.44 L280.34,290.57 L280.74,290.70 L281.14,290.83 L281.54,290.96 L281.94,291.09 L282.34,291.22 L282.73,291.35 L283.13,291.48 L283.53,291.61 L283.93,291.74 L284.33,291.87 L284.73,292.00 L285.13,292.13 L285.53,292.26 L285.93,292.39 L286.10,292.45" stroke="#0000ff" stroke-width="1.90" fill="none" stroke-linejoin="round"/>
<path d="M285.50,292.25 L285.53,292.26 L285.93,292.39 L286.33,292.52 L286.73,292.65 L287.13,292.78 L287.53,292.91 L287.92,293.04 L288.32,293.17 L288.72,293.30 L289.12,293.43 L289.52,293.56 L289.92,293.69 L290.32,293.82 L290.72,293.95 L291.12,294.08 L291.52,294.21 L291.92,294.34 L292.32,294.47 L292.72,294.60 L293.11,294.73 L293.51,294.86 L293.91,294.98 L294.31,295.11 L294.71,295.24 L295.11,295.37 L295.51,295.50 L295.91,295.63 L296.10,295.69 M295.50,295.50 L295.51,295.50 L295.91,295.63 L296.31,295.76 L296.71,295.89 L297.11,296.02 L297.51,296.15 L297.91,296.28 L298.30,296.41 L298.70,296.53 L299.10,296.66 L299.50,296.79 L299.90,296.92 L300.30,297.05 L300.70,297.18 L301.10,297.31 L301.50,297.43 L301.90,297.56 L302.30,297.69 L302.70,297.82 L303.10,297.95 L303.49,298.07 L303.89,298.20 L304.29,298.33 L304.69,298.46 L305.09,298.58 L305.49,298.71 L305.89,298.84 L306.10,298.91 M305.50,298.72 L305.89,298.84 L306.29,298.97 L306.69,299.09 L307.09,299.22 L307.49,299.35 L307.89,299.48 L308.28,299.60 L308.68,299.73 L309.08,299.86 L309.48,299.98 L309.88,300.11 L310.28,300.23 L310.68,300.36 L311.08,300.49 L311.48,300.61 L311.88,300.74 L312.28,300.86 L312.68,300.99 L313.08,301.11 L313.47,301.24 L313.87,301.37 L314.27,301.49 L314.67,301.61 L315.07,301.74 L315.47,301.86 L315.87,301.99 L316.10,302.06 M435.50,328.36 L435.64,328.38 L436.04,328.43 L436.44,328.47 L436.83,328.52 L437.23,328.57 L437.63,328.61 L438.03,328.66 L438.43,328.71 L438.83,328.75 L439.23,328.80 L439.63,328.84 L440.03,328.89 L440.43,328.93 L440.83,328.98 L441.23,329.02 L441.62,329.06 L442.02,329.11 L442.42,329.15 L442.82,329.19 L443.22,329.24 L443.62,329.28 L444.02,329.32 L444.42,329.36 L444.82,329.41 L445.22,329.45 L445.62,329.49 L446.02,329.53 L446.10,329.54 M445.50,329.48 L445.62,329.49 L446.02,329.53 L446.42,329.57 L446.81,329.61 L447.21,329.65 L447.61,329.69 L448.01,329.73 L448.41,329.77 L448.81,329.81 L449.21,329.85 L449.61,329.89 L450.01,329.93 L450.41,329.96 L450.81,330.00 L451.21,330.04 L451.61,330.08 L452.00,330.11 L452.40,330.15 L452.80,330.19 L453.20,330.22 L453.60,330.26 L454.00,330.30 L454.40,330.33 L454.40,330.33" stroke="#0000ff" stroke-width="1.95" fill="none" stroke-linejoin="round"/>
<path d="M315.50,301.87 L315.87,301.99 L316.27,302.11 L316.67,302.24 L317.07,302.36 L317.47,302.49 L317.87,302.61 L318.27,302.73 L318.66,302.86 L319.06,302.98 L319.46,303.10 L319.86,303.23 L320.26,303.35 L320.66,303.47 L321.06,303.59 L321.46,303.72 L321.86,303.84 L322.26,303.96 L322.66,304.08 L323.06,304.20 L323.46,304.33 L323.85,304.45 L324.25,304.57 L324.65,304.69 L325.05,304.81 L325.45,304.93 L325.85,305.05 L326.10,305.13 M325.50,304.95 L325.85,305.05 L326.25,305.17 L326.65,305.29 L327.05,305.41 L327.45,305.53 L327.85,305.65 L328.25,305.77 L328.65,305.89 L329.04,306.01 L329.44,306.13 L329.84,306.25 L330.24,306.37 L330.64,306.48 L331.04,306.60 L331.44,306.72 L331.84,306.84 L332.24,306.96 L332.64,307.07 L333.04,307.19 L333.44,307.31 L333.84,307.42 L334.23,307.54 L334.63,307.66 L335.03,307.77 L335.43,307.89 L335.83,308.00 L336.10,308.08 M335.50,307.91 L335.83,308.00 L336.23,308.12 L336.63,308.23 L337.03,308.35 L337.43,308.46 L337.83,308.58 L338.23,308.69 L338.63,308.81 L339.03,308.92 L339.42,309.03 L339.82,309.15 L340.22,309.26 L340.62,309.37 L341.02,309.49 L341.42,309.60 L341.82,309.71 L342.22,309.82 L342.62,309.93 L343.02,310.04 L343.42,310.16 L343.82,310.27 L344.21,310.38 L344.61,310.49 L345.01,310.60 L345.41,310.71 L345.81,310.82 L346.10,310.90 M405.50,324.03 L405.69,324.07 L406.09,324.13 L406.49,324.20 L406.89,324.27 L407.29,324.33 L407.69,324.40 L408.09,324.47 L408.49,324.53 L408.89,324.60 L409.29,324.66 L409.69,324.73 L410.09,324.79 L410.49,324.86 L410.88,324.92 L411.28,324.99 L411.68,325.05 L412.08,325.11 L412.48,325.18 L412.88,325.24 L413.28,325.30 L413.68,325.36 L414.08,325.42 L414.48,325.49 L414.88,325.55 L415.28,325.61 L415.68,325.67 L416.07,325.73 L416.10,325.73 M415.50,325.64 L415.68,325.67 L416.07,325.73 L416.47,325.79 L416.87,325.85 L417.27,325.91 L417.67,325.97 L418.07,326.03 L418.47,326.09 L418.87,326.15 L419.27,326.21 L419.67,326.26 L420.07,326.32 L420.47,326.38 L420.87,326.44 L421.26,326.50 L421.66,326.55 L422.06,326.61 L422.46,326.67 L422.86,326.72 L423.26,326.78 L423.66,326.83 L424.06,326.89 L424.46,326.94 L424.86,327.00 L425.26,327.05 L425.66,327.11 L426.06,327.16 L426.10,327.17 M425.50,327.09 L425.66,327.11 L426.06,327.16 L426.45,327.21 L426.85,327.27 L427.25,327.32 L427.65,327.37 L428.05,327.43 L428.45,327.48 L428.85,327.53 L429.25,327.58 L429.65,327.64 L430.05,327.69 L430.45,327.74 L430.85,327.79 L431.25,327.84 L431.64,327.89 L432.04,327.94 L432.44,327.99 L432.84,328.04 L433.24,328.09 L433.64,328.14 L434.04,328.19 L434.44,328.24 L434.84,328.28 L435.24,328.33 L435.64,328.38 L436.04,328.43 L436.10,328.43" stroke="#0000ff" stroke-width="2.00" fill="none" stroke-linejoin="round"/>
<path d="M345.50,310.73 L345.81,310.82 L346.21,310.93 L346.61,311.04 L347.01,311.14 L347.41,311.25 L347.81,311.36 L348.21,311.47 L348.61,311.58 L349.01,311.68 L349.40,311.79 L349.80,311.90 L350.20,312.00 L350.60,312.11 L351.00,312.22 L351.40,312.32 L351.80,312.43 L352.20,312.53 L352.60,312.64 L353.00,312.74 L353.40,312.85 L353.80,312.95 L354.20,313.05 L354.59,313.16 L354.99,313.26 L355.39,313.36 L355.79,313.47 L356.10,313.55 M355.50,313.39 L355.79,313.47 L356.19,313.57 L356.59,313.67 L356.99,313.77 L357.39,313.87 L357.79,313.98 L358.19,314.08 L358.59,314.18 L358.99,314.28 L359.39,314.38 L359.78,314.48 L360.18,314.58 L360.58,314.67 L360.98,314.77 L361.38,314.87 L361.78,314.97 L362.18,315.07 L362.58,315.17 L362.98,315.26 L363.38,315.36 L363.78,315.46 L364.18,315.55 L364.58,315.65 L364.97,315.75 L365.37,315.84 L365.77,315.94 L366.10,316.02 M365.50,315.87 L365.77,315.94 L366.17,316.03 L366.57,316.13 L366.97,316.22 L367.37,316.32 L367.77,316.41 L368.17,316.50 L368.57,316.60 L368.97,316.69 L369.37,316.78 L369.77,316.88 L370.16,316.97 L370.56,317.06 L370.96,317.15 L371.36,317.24 L371.76,317.33 L372.16,317.43 L372.56,317.52 L372.96,317.61 L373.36,317.70 L373.76,317.79 L374.16,317.88 L374.56,317.96 L374.95,318.05 L375.35,318.14 L375.75,318.23 L376.10,318.31 M375.50,318.17 L375.75,318.23 L376.15,318.32 L376.55,318.41 L376.95,318.49 L377.35,318.58 L377.75,318.67 L378.15,318.75 L378.55,318.84 L378.95,318.93 L379.35,319.01 L379.75,319.10 L380.14,319.18 L380.54,319.27 L380.94,319.35 L381.34,319.44 L381.74,319.52 L382.14,319.61 L382.54,319.69 L382.94,319.77 L383.34,319.86 L383.74,319.94 L384.14,320.02 L384.54,320.10 L384.94,320.19 L385.33,320.27 L385.73,320.35 L386.10,320.42 M385.50,320.30 L385.73,320.35 L386.13,320.43 L386.53,320.51 L386.93,320.59 L387.33,320.67 L387.73,320.75 L388.13,320.83 L388.53,320.91 L388.93,320.99 L389.33,321.07 L389.73,321.15 L390.13,321.23 L390.52,321.30 L390.92,321.38 L391.32,321.46 L391.72,321.54 L392.12,321.61 L392.52,321.69 L392.92,321.77 L393.32,321.84 L393.72,321.92 L394.12,321.99 L394.52,322.07 L394.92,322.14 L395.32,322.22 L395.71,322.29 L396.10,322.36 M395.50,322.25 L395.71,322.29 L396.11,322.37 L396.51,322.44 L396.91,322.51 L397.31,322.59 L397.71,322.66 L398.11,322.73 L398.51,322.81 L398.91,322.88 L399.31,322.95 L399.71,323.02 L400.11,323.09 L400.51,323.17 L400.90,323.24 L401.30,323.31 L401.70,323.38 L402.10,323.45 L402.50,323.52 L402.90,323.59 L403.30,323.66 L403.70,323.73 L404.10,323.79 L404.50,323.86 L404.90,323.93 L405.30,324.00 L405.69,324.07 L406.09,324.13 L406.10,324.13" stroke="#0000ff" stroke-width="2.05" fill="none" stroke-linejoin="round"/>
<path d="M95.50,280.17 L95.83,279.62 L96.17,279.08 L96.52,278.55 L96.87,278.02 L97.24,277.50 L97.61,276.98 L97.99,276.47 L98.38,275.96 M102.78,271.47 L103.28,271.08 L103.80,270.71 L104.33,270.35 L104.87,270.01 L105.41,269.68 L105.97,269.37 L106.53,269.06 L107.09,268.77 M112.76,266.02 L113.33,265.74 L113.90,265.45 L114.47,265.17 L115.04,264.88 L115.61,264.60 L116.18,264.31 L116.75,264.03 L117.32,263.74 M122.95,260.91 L123.52,260.62 L124.09,260.34 L124.66,260.06 L125.24,259.78 L125.81,259.50 L126.38,259.22 L126.96,258.94 L127.53,258.67 M133.25,256.02 L133.83,255.76 L134.41,255.50 L135.00,255.25 L135.58,254.99 L136.17,254.74 L136.75,254.49 L137.34,254.24 L137.92,253.99 M143.76,251.61 L144.35,251.38 L144.95,251.15 L145.54,250.92 L146.14,250.69 L146.73,250.47 L147.33,250.24 L147.93,250.02 L148.53,249.80 M154.47,247.70 L155.07,247.50 L155.68,247.30 L156.28,247.10 L156.89,246.90 L157.49,246.70 L158.10,246.51 L158.71,246.31 L159.32,246.12 M165.35,244.31 L165.96,244.14 L166.58,243.97 L167.19,243.79 L167.81,243.63 L168.42,243.46 L169.04,243.29 L169.65,243.13 L170.27,242.96 M176.38,241.45 L177.00,241.30 L177.63,241.16 L178.25,241.02 L178.87,240.88 L179.49,240.74 L180.11,240.60 L180.74,240.47 L181.36,240.33 M187.54,239.11 L188.17,238.99 L188.79,238.88 L189.42,238.77 L190.05,238.65 L190.68,238.55 L191.31,238.44 L191.93,238.33 L192.56,238.23 M198.79,237.29 L199.42,237.20 L200.06,237.12 L200.69,237.03 L201.32,236.95 L201.95,236.87 L202.59,236.79 L203.22,236.71 L203.85,236.64 M210.12,235.98 L210.75,235.92 L211.39,235.86 L212.02,235.80 L212.66,235.75 L213.29,235.70 L213.93,235.65 L214.56,235.60 L215.20,235.55 M221.49,235.16 L222.12,235.12 L222.76,235.09 L223.40,235.06 L224.03,235.04 L224.67,235.01 L225.31,234.99 L225.94,234.96 L226.58,234.94 M232.88,234.80 L233.52,234.80 L234.15,234.79 L234.79,234.79 L235.43,234.79 L236.07,234.78 L236.70,234.78 L237.34,234.79 L237.98,234.79 M240.65,234.82 L241.29,234.83 L241.92,234.84 L242.56,234.85 L243.20,234.86 L243.84,234.88 L244.47,234.90 L245.11,234.91 L245.75,234.93 M252.04,235.19 L252.68,235.23 L253.32,235.26 L253.95,235.30 L254.59,235.33 L255.23,235.37 L255.86,235.41 L256.50,235.45 L257.13,235.49 M263.42,235.97 L264.05,236.03 L264.69,236.08 L265.32,236.14 L265.96,236.20 L266.59,236.26 L267.22,236.32 L267.86,236.38 L268.49,236.45 M274.76,237.13 L275.42,237.21 L276.08,237.29 L276.74,237.37 L277.40,237.45 L278.06,237.54 L278.72,237.62 L279.37,237.71" stroke="#0000ff" stroke-width="1.85" fill="none"/>
<path d="M279.37,237.71 L280.01,237.79 L280.64,237.88 L281.27,237.96 L281.90,238.05 L282.53,238.14 L283.16,238.23 L283.80,238.32 L284.43,238.41 M290.65,239.36 L291.28,239.46 L291.91,239.57 L292.54,239.67 L293.17,239.78 L293.80,239.88 L294.43,239.99 L295.06,240.10 L295.68,240.21 M301.88,241.33 L302.28,241.41 L302.68,241.49 M302.68,241.49 L303.30,241.61 L303.93,241.73 L304.55,241.85 L305.18,241.97 L305.81,242.10 L306.43,242.22 L307.06,242.35 L307.68,242.48" stroke="#0000ff" stroke-width="1.90" fill="none"/>
<path d="M313.84,243.78 L314.47,243.91 L315.09,244.05 L315.71,244.19 L316.33,244.33 L316.96,244.46 L317.58,244.61 L318.20,244.75 L318.82,244.89 M319.40,245.02 L320.02,245.16 L320.64,245.31 L321.26,245.45 L321.88,245.60 L322.50,245.75 L323.12,245.89 L323.74,246.04 L324.36,246.19" stroke="#0000ff" stroke-width="1.95" fill="none"/>
<path d="M330.48,247.71 L331.13,247.88 L331.79,248.04 L332.45,248.21 M332.45,248.21 L333.07,248.37 L333.68,248.53 L334.30,248.69 L334.92,248.86 L335.53,249.02 L336.15,249.18 L336.77,249.35 L337.38,249.51" stroke="#0000ff" stroke-width="2.00" fill="none"/>
<path d="M343.15,251.09 L343.77,251.26 L344.38,251.43 L345.00,251.61 L345.61,251.78 L346.22,251.96 L346.83,252.13 L347.45,252.31 L348.06,252.48 M352.23,253.70 L352.84,253.88 L353.45,254.06 L354.06,254.24 L354.67,254.43 L355.28,254.61 L355.89,254.79 L356.50,254.98 L357.11,255.16" stroke="#0000ff" stroke-width="2.05" fill="none"/>
<path d="M360.11,256.08 L360.72,256.27 L361.32,256.46 L361.93,256.65 L362.54,256.84 L363.15,257.03 L363.76,257.22 L364.37,257.41 L364.97,257.61 M367.86,258.53 L368.46,258.72 L369.06,258.92 L369.66,259.11 L370.26,259.30 L370.86,259.50 L371.46,259.69 L372.05,259.89 L372.65,260.09" stroke="#0000ff" stroke-width="2.10" fill="none"/>
<path d="M374.90,260.83 L375.49,261.03 L376.09,261.22 L376.68,261.42 L377.27,261.62 L377.86,261.82 L378.45,262.02 L379.04,262.22 L379.63,262.42 M381.85,263.17 L382.43,263.37 L383.02,263.57 L383.60,263.77 L384.18,263.97 L384.76,264.17 L385.35,264.38 L385.93,264.58 L386.51,264.78" stroke="#0000ff" stroke-width="2.15" fill="none"/>
<path d="M388.70,265.55 L389.36,265.78 L390.02,266.01 L390.67,266.24 L391.33,266.47 L391.99,266.71 L392.64,266.94 L393.30,267.17 M395.47,267.95 L396.11,268.18 L396.76,268.42 L397.41,268.65 L398.06,268.88 L398.71,269.12 L399.35,269.35 L400.00,269.59" stroke="#0000ff" stroke-width="2.20" fill="none"/>
<path d="M402.14,270.37 L402.78,270.61 L403.42,270.84 L404.06,271.08 L404.70,271.31 L405.34,271.55 L405.97,271.79 L406.61,272.02 M408.72,272.81 L409.35,273.04 L409.98,273.28 L410.61,273.52 L411.25,273.75 L411.88,273.99 L412.51,274.23 L413.14,274.47 M415.22,275.26 L415.84,275.49 L416.46,275.73 L417.08,275.97 L417.71,276.20 L418.33,276.44 L418.95,276.68 L419.57,276.92 M421.63,277.71 L422.24,277.94 L422.85,278.18 L423.47,278.42 L424.08,278.66 L424.70,278.90 L425.31,279.13 L425.93,279.37" stroke="#0000ff" stroke-width="2.25" fill="none"/>
<path d="M427.95,280.16 L428.56,280.40 L429.16,280.63 L429.77,280.87 L430.38,281.11 L430.98,281.35 L431.59,281.59 L432.19,281.82 M434.19,282.61 L434.79,282.85 L435.39,283.08 L435.98,283.32 L436.58,283.56 L437.18,283.79 L437.78,284.03 L438.38,284.27 M440.35,285.05 L440.94,285.29 L441.53,285.52 L442.12,285.76 L442.71,285.99 L443.30,286.23 L443.89,286.47 L444.48,286.70 M446.42,287.48 L447.00,287.72 L447.59,287.95 L448.17,288.18 L448.75,288.42 L449.33,288.65 L449.92,288.89 L450.50,289.12 M452.42,289.90 L452.91,290.10 L453.41,290.30 L453.90,290.50 L454.40,290.70" stroke="#0000ff" stroke-width="2.30" fill="none"/>
<path d="M95.50,323.03 L95.50,323.03 L95.90,322.85 L96.30,322.68 L96.70,322.51 L97.10,322.35 L97.50,322.19 L97.90,322.04 L98.29,321.90 L98.69,321.76 L99.09,321.62 L99.49,321.49 L99.89,321.37 L100.29,321.25 L100.69,321.13 L101.09,321.02 L101.49,320.91 L101.89,320.81 L102.29,320.71 L102.69,320.61 L103.09,320.52 L103.48,320.43 L103.88,320.35 L104.28,320.26 L104.68,320.18 L105.08,320.11 L105.48,320.04 L105.88,319.96 L106.10,319.93 M105.50,320.03 L105.88,319.96 L106.28,319.90 L106.68,319.83 L107.08,319.76 L107.48,319.70 L107.88,319.64 L108.28,319.58 L108.67,319.53 L109.07,319.47 L109.47,319.41 L109.87,319.36 L110.27,319.31 L110.67,319.26 L111.07,319.20 L111.47,319.15 L111.87,319.10 L112.27,319.05 L112.67,319.00 L113.07,318.96 L113.46,318.91 L113.86,318.86 L114.26,318.81 L114.66,318.76 L115.06,318.71 L115.46,318.67 L115.86,318.62 L116.10,318.59 M115.50,318.66 L115.86,318.62 L116.26,318.57 L116.66,318.52 L117.06,318.47 L117.46,318.42 L117.86,318.37 L118.26,318.32 L118.65,318.27 L119.05,318.22 L119.45,318.17 L119.85,318.12 L120.25,318.07 L120.65,318.02 L121.05,317.97 L121.45,317.92 L121.85,317.87 L122.25,317.82 L122.65,317.77 L123.05,317.72 L123.45,317.67 L123.84,317.63 L124.24,317.58 L124.64,317.53 L125.04,317.48 L125.44,317.43 L125.84,317.39 L126.10,317.36 M125.50,317.43 L125.84,317.39 L126.24,317.34 L126.64,317.30 L127.04,317.25 L127.44,317.20 L127.84,317.16 L128.24,317.12 L128.64,317.07 L129.03,317.03 L129.43,316.99 L129.83,316.95 L130.23,316.90 L130.63,316.86 L131.03,316.82 L131.43,316.78 L131.83,316.74 L132.23,316.71 L132.63,316.67 L133.03,316.63 L133.43,316.59 L133.83,316.56 L134.22,316.52 L134.62,316.48 L135.02,316.45 L135.42,316.41 L135.82,316.38 L136.10,316.35 M135.50,316.41 L135.82,316.38 L136.22,316.34 L136.62,316.31 L137.02,316.28 L137.42,316.25 L137.82,316.21 L138.22,316.18 L138.62,316.15 L139.02,316.12 L139.41,316.09 L139.81,316.06 L140.21,316.03 L140.61,316.00 L141.01,315.97 L141.41,315.95 L141.81,315.92 L142.21,315.89 L142.61,315.87 L143.01,315.84 L143.41,315.81 L143.81,315.79 L144.21,315.76 L144.60,315.74 L145.00,315.72 L145.40,315.69 L145.80,315.67 L146.10,315.65 M145.50,315.69 L145.80,315.67 L146.20,315.65 L146.60,315.63 L147.00,315.60 L147.40,315.58 L147.80,315.56 L148.20,315.54 L148.60,315.52 L149.00,315.50 L149.39,315.48 L149.79,315.47 L150.19,315.45 L150.59,315.43 L150.99,315.41 L151.39,315.40 L151.79,315.38 L152.19,315.36 L152.59,315.35 L152.99,315.33 L153.39,315.32 L153.79,315.30 L154.19,315.29 L154.58,315.28 L154.98,315.26 L155.38,315.25 L155.78,315.24 L156.10,315.23 M155.50,315.25 L155.78,315.24 L156.18,315.23 L156.58,315.22 L156.98,315.21 L157.38,315.19 L157.78,315.18 L158.18,315.17 L158.58,315.16 L158.98,315.16 L159.38,315.15 L159.77,315.14 L160.17,315.13 L160.57,315.12 L160.97,315.12 L161.37,315.11 L161.77,315.10 L162.17,315.10 L162.57,315.09 L162.97,315.09 L163.37,315.08 L163.77,315.08 L164.17,315.07 L164.57,315.07 L164.96,315.07 L165.36,315.06 L165.76,315.06 L166.10,315.06 M165.50,315.06 L165.76,315.06 L166.16,315.06 L166.56,315.06 L166.96,315.05 L167.36,315.05 L167.76,315.05 L168.16,315.05 L168.56,315.05 L168.96,315.05 L169.36,315.05 L169.76,315.05 L170.15,315.06 L170.55,315.06 L170.95,315.06 L171.35,315.06 L171.75,315.06 L172.15,315.07 L172.55,315.07 L172.95,315.07 L173.35,315.08 L173.75,315.08 L174.15,315.09 L174.55,315.09 L174.95,315.10 L175.34,315.10 L175.74,315.11 L176.10,315.11 M175.50,315.11 L175.74,315.11 L176.14,315.12 L176.54,315.12 L176.94,315.13 L177.34,315.14 L177.74,315.14 L178.14,315.15 L178.54,315.16 L178.94,315.17 L179.34,315.18 L179.74,315.19 L180.13,315.20 L180.53,315.21 L180.93,315.22 L181.33,315.23 L181.73,315.24 L182.13,315.25 L182.53,315.26 L182.93,315.27 L183.33,315.28 L183.73,315.29 L184.13,315.31 L184.53,315.32 L184.93,315.33 L185.32,315.35 L185.72,315.36 L186.10,315.37 M185.50,315.35 L185.72,315.36 L186.12,315.37 L186.52,315.39 L186.92,315.40 L187.32,315.42 L187.72,315.43 L188.12,315.45 L188.52,315.46 L188.92,315.48 L189.32,315.50 L189.72,315.51 L190.12,315.53 L190.51,315.55 L190.91,315.56 L191.31,315.58 L191.71,315.60 L192.11,315.62 L192.51,315.63 L192.91,315.65 L193.31,315.67 L193.71,315.69 L194.11,315.71 L194.51,315.73 L194.91,315.75 L195.31,315.77 L195.70,315.79 L196.10,315.81 M195.50,315.78 L195.70,315.79 L196.10,315.81 L196.50,315.83 L196.90,315.85 L197.30,315.87 L197.70,315.89 L198.10,315.92 L198.50,315.94 L198.90,315.96 L199.30,315.98 L199.70,316.01 L200.10,316.03 L200.50,316.05 L200.89,316.07 L201.29,316.10 L201.69,316.12 L202.09,316.15 L202.49,316.17 L202.89,316.19 L203.29,316.22 L203.69,316.24 L204.09,316.27 L204.49,316.29 L204.89,316.32 L205.29,316.35 L205.69,316.37 L206.08,316.40 L206.10,316.40 M205.50,316.36 L205.69,316.37 L206.08,316.40 L206.48,316.42 L206.88,316.45 L207.28,316.48 L207.68,316.50 L208.08,316.53 L208.48,316.56 L208.88,316.59 L209.28,316.61 L209.68,316.64 L210.08,316.67 L210.48,316.70 L210.87,316.73 L211.27,316.76 L211.67,316.78 L212.07,316.81 L212.47,316.84 L212.87,316.87 L213.27,316.90 L213.67,316.93 L214.07,316.96 L214.47,316.99 L214.87,317.02 L215.27,317.05 L215.67,317.08 L216.06,317.11 L216.10,317.12 M215.50,317.07 L215.67,317.08 L216.06,317.11 L216.46,317.14 L216.86,317.18 L217.26,317.21 L217.66,317.24 L218.06,317.27 L218.46,317.30 L218.86,317.33 L219.26,317.37 L219.66,317.40 L220.06,317.43 L220.46,317.46 L220.86,317.50 L221.25,317.53 L221.65,317.56 L222.05,317.59 L222.45,317.63 L222.85,317.66 L223.25,317.70 L223.65,317.73 L224.05,317.76 L224.45,317.80 L224.85,317.83 L225.25,317.86 L225.65,317.90 L226.05,317.93 L226.10,317.94 M225.50,317.89 L225.65,317.90 L226.05,317.93 L226.44,317.97 L226.84,318.00 L227.24,318.04 L227.64,318.07 L228.04,318.11 L228.44,318.14 L228.84,318.18 L229.24,318.21 L229.64,318.25 L230.04,318.28 L230.44,318.32 L230.84,318.36 L231.24,318.39 L231.63,318.43 L232.03,318.46 L232.43,318.50 L232.83,318.54 L233.23,318.57 L233.63,318.61 L234.03,318.65 L234.43,318.68 L234.83,318.72 L235.23,318.76 L235.63,318.79 L236.03,318.83 L236.10,318.84 M235.50,318.78 L235.63,318.79 L236.03,318.83 L236.43,318.87 L236.82,318.91 L237.22,318.94 L237.62,318.98 L238.02,319.02 L238.42,319.06 L238.82,319.09 L239.22,319.13 L239.62,319.17 L240.02,319.21 L240.42,319.25 L240.82,319.28 L241.22,319.32 L241.62,319.36 L242.01,319.40 L242.41,319.44 L242.81,319.48 L243.21,319.51 L243.61,319.55 L244.01,319.59 L244.41,319.63 L244.81,319.67 L245.21,319.71 L245.61,319.75 L246.01,319.79 L246.10,319.80 M245.50,319.74 L245.61,319.75 L246.01,319.79 L246.41,319.83 L246.80,319.87 L247.20,319.90 L247.60,319.94 L248.00,319.98 L248.40,320.02 L248.80,320.06 L249.20,320.10 L249.60,320.14 L250.00,320.18 L250.40,320.22 L250.80,320.26 L251.20,320.30 L251.60,320.34 L251.99,320.38 L252.39,320.42 L252.79,320.46 L253.19,320.50 L253.59,320.54 L253.99,320.58 L254.39,320.62 L254.79,320.67 L255.19,320.71 L255.59,320.75 L255.99,320.79 L256.10,320.80 M255.50,320.74 L255.59,320.75 L255.99,320.79 L256.39,320.83 L256.79,320.87 L257.18,320.91 L257.58,320.95 L257.98,320.99 L258.38,321.03 L258.78,321.07 L259.18,321.12 L259.58,321.16 L259.98,321.20 L260.38,321.24 L260.78,321.28 L261.18,321.32 L261.58,321.36 L261.98,321.41 L262.37,321.45 L262.77,321.49 L263.17,321.53 L263.57,321.57 L263.97,321.61 L264.37,321.66 L264.77,321.70 L265.17,321.74 L265.57,321.78 L265.97,321.82 L266.10,321.84 M265.50,321.77 L265.57,321.78 L265.97,321.82 L266.37,321.87 L266.77,321.91 L267.17,321.95 L267.56,321.99 L267.96,322.03 L268.36,322.08 L268.76,322.12 L269.16,322.16 L269.56,322.20 L269.96,322.25 L270.36,322.29 L270.76,322.33 L271.16,322.37 L271.56,322.42 L271.96,322.46 L272.36,322.50 L272.75,322.54 L273.15,322.59 L273.55,322.63 L273.95,322.67 L274.35,322.71 L274.75,322.76 L275.15,322.80 L275.55,322.84 L275.95,322.88 L276.10,322.90 M275.50,322.84 L275.55,322.84 L275.95,322.88 L276.35,322.93 L276.75,322.97 L277.15,323.01 L277.54,323.06 L277.94,323.10 L278.34,323.14 L278.74,323.18 L279.14,323.23 L279.54,323.27 L279.94,323.31 L280.34,323.36 L280.74,323.40 L281.14,323.44 L281.54,323.49 L281.94,323.53 L282.34,323.57 L282.73,323.62 L283.13,323.66 L283.53,323.70 L283.93,323.75 L284.33,323.79 L284.73,323.83 L285.13,323.87 L285.53,323.92 L285.93,323.96 L286.10,323.98 M415.50,334.75 L415.68,334.75 L416.07,334.76 L416.47,334.78 L416.87,334.79 L417.27,334.80 L417.67,334.81 L418.07,334.82 L418.47,334.83 L418.87,334.84 L419.27,334.85 L419.67,334.86 L420.07,334.87 L420.47,334.88 L420.87,334.89 L421.26,334.90 L421.66,334.90 L422.06,334.90 L422.46,334.90 L422.86,334.90 L423.26,334.90 L423.66,334.90 L424.06,334.90 L424.46,334.90 L424.86,334.90 L425.26,334.90 L425.66,334.90 L426.06,334.90 L426.10,334.90 M425.50,334.90 L425.66,334.90 L426.06,334.90 L426.45,334.90 L426.85,334.90 L427.25,334.90 L427.65,334.90 L428.05,334.90 L428.45,334.90 L428.85,334.90 L429.25,334.90 L429.65,334.90 L430.05,334.90 L430.45,334.90 L430.85,334.90 L431.25,334.90 L431.64,334.90 L432.04,334.90 L432.44,334.90 L432.84,334.90 L433.24,334.90 L433.64,334.90 L434.04,334.90 L434.44,334.90 L434.84,334.90 L435.24,334.90 L435.64,334.90 L436.04,334.90 L436.10,334.90 M435.50,334.90 L435.64,334.90 L436.04,334.90 L436.44,334.90 L436.83,334.90 L437.23,334.90 L437.63,334.90 L438.03,334.90 L438.43,334.90 L438.83,334.90 L439.23,334.90 L439.63,334.90 L440.03,334.90 L440.43,334.90 L440.83,334.90 L441.23,334.90 L441.62,334.90 L442.02,334.90 L442.42,334.90 L442.82,334.90 L443.22,334.90 L443.62,334.90 L444.02,334.90 L444.42,334.90 L444.82,334.90 L445.22,334.90 L445.62,334.90 L446.02,334.90 L446.10,334.90 M445.50,334.90 L445.62,334.90 L446.02,334.90 L446.42,334.90 L446.81,334.90 L447.21,334.90 L447.61,334.90 L448.01,334.90 L448.41,334.90 L448.81,334.90 L449.21,334.90 L449.61,334.90 L450.01,334.90 L450.41,334.90 L450.81,334.90 L451.21,334.90 L451.61,334.90 L452.00,334.90 L452.40,334.90 L452.80,334.90 L453.20,334.89 L453.60,334.88 L454.00,334.87 L454.40,334.86 L454.40,334.86" stroke="#228b22" stroke-width="1.85" fill="none" stroke-linejoin="round"/>
<path d="M285.50,323.91 L285.53,323.92 L285.93,323.96 L286.33,324.00 L286.73,324.05 L287.13,324.09 L287.53,324.13 L287.92,324.18 L288.32,324.22 L288.72,324.26 L289.12,324.31 L289.52,324.35 L289.92,324.39 L290.32,324.44 L290.72,324.48 L291.12,324.52 L291.52,324.57 L291.92,324.61 L292.32,324.65 L292.72,324.70 L293.11,324.74 L293.51,324.78 L293.91,324.83 L294.31,324.87 L294.71,324.91 L295.11,324.96 L295.51,325.00 L295.91,325.04 L296.10,325.06 M295.50,325.00 L295.51,325.00 L295.91,325.04 L296.31,325.09 L296.71,325.13 L297.11,325.17 L297.51,325.22 L297.91,325.26 L298.30,325.30 L298.70,325.34 L299.10,325.39 L299.50,325.43 L299.90,325.47 L300.30,325.52 L300.70,325.56 L301.10,325.60 L301.50,325.65 L301.90,325.69 L302.30,325.73 L302.70,325.78 L303.10,325.82 L303.49,325.86 L303.89,325.90 L304.29,325.95 L304.69,325.99 L305.09,326.03 L305.49,326.08 L305.89,326.12 L306.10,326.14 M305.50,326.08 L305.89,326.12 L306.29,326.16 L306.69,326.20 L307.09,326.25 L307.49,326.29 L307.89,326.33 L308.28,326.38 L308.68,326.42 L309.08,326.46 L309.48,326.50 L309.88,326.55 L310.28,326.59 L310.68,326.63 L311.08,326.67 L311.48,326.72 L311.88,326.76 L312.28,326.80 L312.68,326.84 L313.08,326.89 L313.47,326.93 L313.87,326.97 L314.27,327.01 L314.67,327.05 L315.07,327.10 L315.47,327.14 L315.87,327.18 L316.10,327.20 M315.50,327.14 L315.87,327.18 L316.27,327.22 L316.67,327.26 L317.07,327.31 L317.47,327.35 L317.87,327.39 L318.27,327.43 L318.66,327.47 L319.06,327.52 L319.46,327.56 L319.86,327.60 L320.26,327.64 L320.66,327.68 L321.06,327.72 L321.46,327.76 L321.86,327.81 L322.26,327.85 L322.66,327.89 L323.06,327.93 L323.46,327.97 L323.85,328.01 L324.25,328.05 L324.65,328.09 L325.05,328.14 L325.45,328.18 L325.85,328.22 L326.10,328.24 M325.50,328.18 L325.85,328.22 L326.25,328.26 L326.65,328.30 L327.05,328.34 L327.45,328.38 L327.85,328.42 L328.25,328.46 L328.65,328.50 L329.04,328.54 L329.44,328.58 L329.84,328.62 L330.24,328.66 L330.64,328.70 L331.04,328.74 L331.44,328.78 L331.84,328.82 L332.24,328.86 L332.64,328.90 L333.04,328.94 L333.44,328.98 L333.84,329.02 L334.23,329.06 L334.63,329.10 L335.03,329.14 L335.43,329.18 L335.83,329.22 L336.10,329.24 M335.50,329.19 L335.83,329.22 L336.23,329.26 L336.63,329.30 L337.03,329.34 L337.43,329.37 L337.83,329.41 L338.23,329.45 L338.63,329.49 L339.03,329.53 L339.42,329.57 L339.82,329.61 L340.22,329.64 L340.62,329.68 L341.02,329.72 L341.42,329.76 L341.82,329.80 L342.22,329.84 L342.62,329.87 L343.02,329.91 L343.42,329.95 L343.82,329.99 L344.21,330.02 L344.61,330.06 L345.01,330.10 L345.41,330.14 L345.81,330.17 L346.10,330.20 M345.50,330.15 L345.81,330.17 L346.21,330.21 L346.61,330.25 L347.01,330.29 L347.41,330.32 L347.81,330.36 L348.21,330.40 L348.61,330.43 L349.01,330.47 L349.40,330.51 L349.80,330.54 L350.20,330.58 L350.60,330.61 L351.00,330.65 L351.40,330.69 L351.80,330.72 L352.20,330.76 L352.60,330.79 L353.00,330.83 L353.40,330.86 L353.80,330.90 L354.20,330.93 L354.59,330.97 L354.99,331.00 L355.39,331.04 L355.79,331.07 L356.10,331.10 M355.50,331.05 L355.79,331.07 L356.19,331.11 L356.59,331.14 L356.99,331.18 L357.39,331.21 L357.79,331.25 L358.19,331.28 L358.59,331.32 L358.99,331.35 L359.39,331.38 L359.78,331.42 L360.18,331.45 L360.58,331.48 L360.98,331.52 L361.38,331.55 L361.78,331.58 L362.18,331.62 L362.58,331.65 L362.98,331.68 L363.38,331.72 L363.78,331.75 L364.18,331.78 L364.58,331.81 L364.97,331.85 L365.37,331.88 L365.77,331.91 L366.10,331.94 M365.50,331.89 L365.77,331.91 L366.17,331.94 L366.57,331.97 L366.97,332.01 L367.37,332.04 L367.77,332.07 L368.17,332.10 L368.57,332.13 L368.97,332.16 L369.37,332.19 L369.77,332.22 L370.16,332.25 L370.56,332.28 L370.96,332.32 L371.36,332.35 L371.76,332.38 L372.16,332.41 L372.56,332.44 L372.96,332.47 L373.36,332.49 L373.76,332.52 L374.16,332.55 L374.56,332.58 L374.95,332.61 L375.35,332.64 L375.75,332.67 L376.10,332.69 M375.50,332.65 L375.75,332.67 L376.15,332.70 L376.55,332.73 L376.95,332.76 L377.35,332.78 L377.75,332.81 L378.15,332.84 L378.55,332.87 L378.95,332.90 L379.35,332.92 L379.75,332.95 L380.14,332.98 L380.54,333.00 L380.94,333.03 L381.34,333.06 L381.74,333.09 L382.14,333.11 L382.54,333.14 L382.94,333.16 L383.34,333.19 L383.74,333.22 L384.14,333.24 L384.54,333.27 L384.94,333.29 L385.33,333.32 L385.73,333.34 L386.10,333.37 M385.50,333.33 L385.73,333.34 L386.13,333.37 L386.53,333.39 L386.93,333.42 L387.33,333.44 L387.73,333.47 L388.13,333.49 L388.53,333.52 L388.93,333.54 L389.33,333.56 L389.73,333.59 L390.13,333.61 L390.52,333.63 L390.92,333.66 L391.32,333.68 L391.72,333.70 L392.12,333.73 L392.52,333.75 L392.92,333.77 L393.32,333.79 L393.72,333.81 L394.12,333.84 L394.52,333.86 L394.92,333.88 L395.32,333.90 L395.71,333.92 L396.10,333.94 M395.50,333.91 L395.71,333.92 L396.11,333.94 L396.51,333.96 L396.91,333.99 L397.31,334.01 L397.71,334.03 L398.11,334.05 L398.51,334.07 L398.91,334.09 L399.31,334.11 L399.71,334.12 L400.11,334.14 L400.51,334.16 L400.90,334.18 L401.30,334.20 L401.70,334.22 L402.10,334.24 L402.50,334.26 L402.90,334.27 L403.30,334.29 L403.70,334.31 L404.10,334.33 L404.50,334.34 L404.90,334.36 L405.30,334.38 L405.69,334.40 L406.09,334.41 L406.10,334.41 M405.50,334.39 L405.69,334.40 L406.09,334.41 L406.49,334.43 L406.89,334.44 L407.29,334.46 L407.69,334.48 L408.09,334.49 L408.49,334.51 L408.89,334.52 L409.29,334.54 L409.69,334.55 L410.09,334.57 L410.49,334.58 L410.88,334.60 L411.28,334.61 L411.68,334.62 L412.08,334.64 L412.48,334.65 L412.88,334.66 L413.28,334.68 L413.68,334.69 L414.08,334.70 L414.48,334.72 L414.88,334.73 L415.28,334.74 L415.68,334.75 L416.07,334.76 L416.10,334.77" stroke="#228b22" stroke-width="1.90" fill="none" stroke-linejoin="round"/>
<path d="M95.50,322.72 L96.05,322.40 L96.61,322.09 L97.17,321.80 L97.74,321.52 L98.32,321.25 L98.91,321.00 L99.50,320.77 L100.10,320.55 M106.22,319.08 L106.85,318.99 L107.48,318.90 L108.11,318.81 L108.75,318.73 L109.38,318.65 L110.01,318.57 L110.64,318.50 L111.28,318.42 M117.52,317.58 L118.15,317.48 L118.78,317.38 L119.41,317.27 L120.04,317.16 L120.66,317.04 L121.29,316.93 L121.92,316.81 L122.54,316.69 M128.71,315.43 L129.34,315.29 L129.96,315.16 L130.58,315.03 L131.21,314.89 L131.83,314.76 L132.45,314.62 L133.08,314.49 L133.70,314.35 M139.85,312.98 L140.47,312.83 L141.09,312.69 L141.71,312.55 L142.33,312.41 L142.96,312.27 L143.58,312.13 L144.20,311.99 L144.82,311.84 M150.96,310.44 L151.58,310.30 L152.20,310.16 L152.83,310.02 L153.45,309.88 L154.07,309.74 L154.69,309.60 L155.31,309.46 L155.94,309.32 M162.09,307.95 L162.71,307.82 L163.33,307.68 L163.96,307.55 L164.58,307.42 L165.20,307.28 L165.83,307.15 L166.45,307.02 L167.07,306.89 M173.25,305.64 L173.88,305.52 L174.50,305.40 L175.13,305.28 L175.75,305.16 L176.38,305.04 L177.01,304.93 L177.63,304.81 L178.26,304.70 M184.47,303.64 L185.10,303.54 L185.73,303.44 L186.36,303.34 L186.99,303.24 L187.62,303.15 L188.25,303.05 L188.88,302.96 L189.51,302.87 M195.76,302.02 L196.39,301.94 L197.02,301.87 L197.65,301.79 L198.29,301.71 L198.92,301.64 L199.55,301.57 L200.19,301.49 L200.82,301.42 M207.09,300.78 L207.72,300.72 L208.36,300.66 L208.99,300.60 L209.63,300.55 L210.26,300.49 L210.90,300.44 L211.53,300.38 L212.17,300.33 M218.45,299.87 L219.09,299.82 L219.72,299.78 L220.36,299.74 L221.00,299.70 L221.63,299.67 L222.27,299.63 L222.90,299.59 L223.54,299.56 M229.83,299.26 L230.47,299.23 L231.11,299.20 L231.74,299.18 L232.38,299.16 L233.02,299.13 L233.66,299.11 L234.29,299.09 L234.93,299.07 M240.65,298.92 L241.29,298.91 L241.92,298.90 L242.56,298.89 L243.20,298.87 L243.84,298.86 L244.47,298.86 L245.11,298.85 L245.75,298.84 M252.05,298.80 L252.69,298.80 L253.32,298.80 L253.96,298.81 L254.60,298.81 L255.24,298.81 L255.87,298.81 L256.51,298.82 L257.15,298.82 M263.45,298.91 L264.09,298.92 L264.72,298.94 L265.36,298.95 L266.00,298.96 L266.64,298.98 L267.27,299.00 L267.91,299.01 L268.55,299.03 M274.84,299.23 L275.49,299.26 L276.14,299.28 L276.79,299.31 L277.43,299.33 L278.08,299.36 L278.73,299.39 L279.37,299.42 M279.37,299.42 L280.01,299.44 L280.65,299.47 L281.29,299.50 L281.92,299.53 L282.56,299.56 L283.20,299.59 L283.83,299.63 L284.47,299.66 M290.76,300.01 L291.40,300.05 L292.03,300.09 L292.67,300.13 L293.30,300.17 L293.94,300.21 L294.58,300.25 L295.21,300.29 L295.85,300.34 M302.13,300.79 L302.68,300.83" stroke="#228b22" stroke-width="1.85" fill="none"/>
<path d="M302.68,300.83 L303.31,300.88 L303.95,300.93 L304.58,300.98 L305.22,301.03 L305.85,301.08 L306.49,301.13 L307.13,301.18 L307.76,301.23 M314.04,301.78 L314.67,301.84 L315.31,301.89 L315.94,301.95 L316.58,302.01 L317.21,302.07 L317.85,302.13 L318.48,302.19 L319.11,302.25 M319.40,302.28 L320.03,302.34 L320.67,302.40 L321.30,302.47 L321.94,302.53 L322.57,302.59 L323.20,302.66 L323.84,302.72 L324.47,302.79 M330.74,303.45 L331.31,303.51 L331.88,303.57 L332.45,303.64 M332.45,303.64 L333.08,303.71 L333.72,303.78 L334.35,303.85 L334.98,303.92 L335.62,303.99 L336.25,304.06 L336.88,304.14 L337.52,304.21" stroke="#228b22" stroke-width="1.90" fill="none"/>
<path d="M343.15,304.88 L343.79,304.96 L344.42,305.03 L345.05,305.11 L345.69,305.19 L346.32,305.27 L346.95,305.35 L347.58,305.42 L348.22,305.50 M352.23,306.02 L352.86,306.10 L353.49,306.18 L354.13,306.26 L354.76,306.34 L355.39,306.43 L356.02,306.51 L356.65,306.60 L357.29,306.68 M360.11,307.06 L360.74,307.14 L361.37,307.23 L362.00,307.32 L362.63,307.40 L363.26,307.49 L363.90,307.58 L364.53,307.67 L365.16,307.75 M368.06,308.16 L368.70,308.25 L369.34,308.34 L369.98,308.43 L370.61,308.52 L371.25,308.62 L371.89,308.71 L372.53,308.80 L373.16,308.89" stroke="#228b22" stroke-width="1.95" fill="none"/>
<path d="M375.56,309.24 L376.20,309.33 L376.83,309.43 L377.47,309.52 L378.10,309.61 L378.74,309.71 L379.37,309.80 L380.01,309.90 L380.64,309.99 M383.03,310.35 L383.66,310.45 L384.30,310.54 L384.93,310.64 L385.56,310.73 L386.20,310.83 L386.83,310.93 L387.46,311.02 L388.09,311.12 M390.48,311.49 L391.11,311.59 L391.74,311.68 L392.37,311.78 L393.00,311.88 L393.63,311.98 L394.26,312.08 L394.89,312.18 L395.52,312.28 M397.90,312.65 L398.52,312.75 L399.15,312.85 L399.78,312.95 L400.41,313.05 L401.04,313.15 L401.67,313.25 L402.29,313.35 L402.92,313.45 M405.29,313.83 L405.91,313.93 L406.54,314.03 L407.17,314.14 L407.79,314.24 L408.42,314.34 L409.05,314.44 L409.67,314.54 L410.30,314.64" stroke="#228b22" stroke-width="2.00" fill="none"/>
<path d="M412.66,315.03 L413.28,315.13 L413.90,315.23 L414.53,315.34 L415.15,315.44 L415.78,315.54 L416.40,315.64 L417.02,315.75 L417.65,315.85 M420.00,316.24 L420.62,316.34 L421.24,316.44 L421.86,316.55 L422.48,316.65 L423.11,316.75 L423.73,316.86 L424.35,316.96 L424.97,317.06 M427.31,317.45 L427.93,317.56 L428.55,317.66 L429.17,317.77 L429.79,317.87 L430.41,317.97 L431.03,318.08 L431.65,318.18 L432.27,318.28 M434.60,318.68 L435.22,318.78 L435.84,318.88 L436.46,318.99 L437.07,319.09 L437.69,319.20 L438.31,319.30 L438.93,319.40 L439.54,319.51 M441.87,319.90 L442.49,320.00 L443.10,320.11 L443.72,320.21 L444.33,320.31 L444.95,320.42 L445.56,320.52 L446.18,320.62 L446.79,320.73 M449.11,321.12 L449.72,321.22 L450.34,321.33 L450.95,321.43 L451.56,321.53 L452.18,321.64 L452.79,321.74 L453.40,321.84 L454.02,321.94" stroke="#228b22" stroke-width="2.05" fill="none"/>
<path d="M95.50,332.45 L95.50,332.45 L95.90,332.43 L96.30,332.42 L96.70,332.40 L97.10,332.38 L97.50,332.37 L97.90,332.35 L98.29,332.33 L98.69,332.32 L99.09,332.30 L99.49,332.28 L99.89,332.26 L100.29,332.25 L100.69,332.23 L101.09,332.21 L101.49,332.19 L101.89,332.18 L102.29,332.16 L102.69,332.14 L103.09,332.12 L103.48,332.10 L103.88,332.08 L104.28,332.07 L104.68,332.05 L105.08,332.03 L105.48,332.01 L105.88,331.99 L106.10,331.98 M105.50,332.01 L105.88,331.99 L106.28,331.97 L106.68,331.96 L107.08,331.94 L107.48,331.92 L107.88,331.90 L108.28,331.88 L108.67,331.86 L109.07,331.84 L109.47,331.82 L109.87,331.80 L110.27,331.79 L110.67,331.77 L111.07,331.75 L111.47,331.73 L111.87,331.71 L112.27,331.69 L112.67,331.67 L113.07,331.65 L113.46,331.63 L113.86,331.61 L114.26,331.59 L114.66,331.58 L115.06,331.56 L115.46,331.54 L115.86,331.52 L116.10,331.51 M115.50,331.54 L115.86,331.52 L116.26,331.50 L116.66,331.48 L117.06,331.46 L117.46,331.44 L117.86,331.42 L118.26,331.40 L118.65,331.38 L119.05,331.37 L119.45,331.35 L119.85,331.33 L120.25,331.31 L120.65,331.29 L121.05,331.27 L121.45,331.25 L121.85,331.23 L122.25,331.22 L122.65,331.20 L123.05,331.18 L123.45,331.16 L123.84,331.14 L124.24,331.12 L124.64,331.11 L125.04,331.09 L125.44,331.07 L125.84,331.05 L126.10,331.04 M125.50,331.07 L125.84,331.05 L126.24,331.03 L126.64,331.02 L127.04,331.00 L127.44,330.98 L127.84,330.96 L128.24,330.95 L128.64,330.93 L129.03,330.91 L129.43,330.90 L129.83,330.88 L130.23,330.86 L130.63,330.85 L131.03,330.83 L131.43,330.81 L131.83,330.80 L132.23,330.78 L132.63,330.76 L133.03,330.75 L133.43,330.73 L133.83,330.72 L134.22,330.70 L134.62,330.68 L135.02,330.67 L135.42,330.65 L135.82,330.64 L136.10,330.63 M135.50,330.65 L135.82,330.64 L136.22,330.62 L136.62,330.61 L137.02,330.59 L137.42,330.58 L137.82,330.56 L138.22,330.55 L138.62,330.53 L139.02,330.52 L139.41,330.50 L139.81,330.49 L140.21,330.47 L140.61,330.46 L141.01,330.44 L141.41,330.43 L141.81,330.42 L142.21,330.40 L142.61,330.39 L143.01,330.37 L143.41,330.36 L143.81,330.35 L144.21,330.33 L144.60,330.32 L145.00,330.31 L145.40,330.29 L145.80,330.28 L146.10,330.27 M145.50,330.29 L145.80,330.28 L146.20,330.27 L146.60,330.26 L147.00,330.24 L147.40,330.23 L147.80,330.22 L148.20,330.21 L148.60,330.19 L149.00,330.18 L149.39,330.17 L149.79,330.16 L150.19,330.14 L150.59,330.13 L150.99,330.12 L151.39,330.11 L151.79,330.10 L152.19,330.09 L152.59,330.08 L152.99,330.06 L153.39,330.05 L153.79,330.04 L154.19,330.03 L154.58,330.02 L154.98,330.01 L155.38,330.00 L155.78,329.99 L156.10,329.98 M155.50,330.00 L155.78,329.99 L156.18,329.98 L156.58,329.97 L156.98,329.96 L157.38,329.95 L157.78,329.94 L158.18,329.93 L158.58,329.92 L158.98,329.91 L159.38,329.90 L159.77,329.89 L160.17,329.88 L160.57,329.87 L160.97,329.86 L161.37,329.85 L161.77,329.84 L162.17,329.83 L162.57,329.82 L162.97,329.82 L163.37,329.81 L163.77,329.80 L164.17,329.79 L164.57,329.78 L164.96,329.77 L165.36,329.77 L165.76,329.76 L166.10,329.75 M165.50,329.76 L165.76,329.76 L166.16,329.75 L166.56,329.74 L166.96,329.74 L167.36,329.73 L167.76,329.72 L168.16,329.71 L168.56,329.71 L168.96,329.70 L169.36,329.69 L169.76,329.68 L170.15,329.68 L170.55,329.67 L170.95,329.66 L171.35,329.66 L171.75,329.65 L172.15,329.64 L172.55,329.64 L172.95,329.63 L173.35,329.63 L173.75,329.62 L174.15,329.62 L174.55,329.61 L174.95,329.60 L175.34,329.60 L175.74,329.59 L176.10,329.59 M175.50,329.60 L175.74,329.59 L176.14,329.59 L176.54,329.58 L176.94,329.58 L177.34,329.57 L177.74,329.57 L178.14,329.56 L178.54,329.56 L178.94,329.55 L179.34,329.55 L179.74,329.55 L180.13,329.54 L180.53,329.54 L180.93,329.53 L181.33,329.53 L181.73,329.53 L182.13,329.52 L182.53,329.52 L182.93,329.51 L183.33,329.51 L183.73,329.51 L184.13,329.50 L184.53,329.50 L184.93,329.50 L185.32,329.50 L185.72,329.49 L186.10,329.49 M185.50,329.50 L185.72,329.49 L186.12,329.49 L186.52,329.49 L186.92,329.49 L187.32,329.48 L187.72,329.48 L188.12,329.48 L188.52,329.48 L188.92,329.48 L189.32,329.47 L189.72,329.47 L190.12,329.47 L190.51,329.47 L190.91,329.47 L191.31,329.47 L191.71,329.47 L192.11,329.47 L192.51,329.46 L192.91,329.46 L193.31,329.46 L193.71,329.46 L194.11,329.46 L194.51,329.46 L194.91,329.46 L195.31,329.46 L195.70,329.46 L196.10,329.46 M195.50,329.46 L195.70,329.46 L196.10,329.46 L196.50,329.46 L196.90,329.46 L197.30,329.46 L197.70,329.46 L198.10,329.46 L198.50,329.46 L198.90,329.47 L199.30,329.47 L199.70,329.47 L200.10,329.47 L200.50,329.47 L200.89,329.47 L201.29,329.47 L201.69,329.47 L202.09,329.48 L202.49,329.48 L202.89,329.48 L203.29,329.48 L203.69,329.49 L204.09,329.49 L204.49,329.49 L204.89,329.49 L205.29,329.50 L205.69,329.50 L206.08,329.50 L206.10,329.50 M205.50,329.50 L205.69,329.50 L206.08,329.50 L206.48,329.50 L206.88,329.51 L207.28,329.51 L207.68,329.51 L208.08,329.52 L208.48,329.52 L208.88,329.52 L209.28,329.53 L209.68,329.53 L210.08,329.54 L210.48,329.54 L210.87,329.54 L211.27,329.55 L211.67,329.55 L212.07,329.56 L212.47,329.56 L212.87,329.57 L213.27,329.57 L213.67,329.58 L214.07,329.58 L214.47,329.59 L214.87,329.59 L215.27,329.60 L215.67,329.60 L216.06,329.61 L216.10,329.61 M215.50,329.60 L215.67,329.60 L216.06,329.61 L216.46,329.62 L216.86,329.62 L217.26,329.63 L217.66,329.63 L218.06,329.64 L218.46,329.65 L218.86,329.65 L219.26,329.66 L219.66,329.67 L220.06,329.67 L220.46,329.68 L220.86,329.69 L221.25,329.69 L221.65,329.70 L222.05,329.71 L222.45,329.72 L222.85,329.72 L223.25,329.73 L223.65,329.74 L224.05,329.75 L224.45,329.76 L224.85,329.77 L225.25,329.77 L225.65,329.78 L226.05,329.79 L226.10,329.79 M225.50,329.78 L225.65,329.78 L226.05,329.79 L226.44,329.80 L226.84,329.81 L227.24,329.82 L227.64,329.83 L228.04,329.84 L228.44,329.84 L228.84,329.85 L229.24,329.86 L229.64,329.87 L230.04,329.88 L230.44,329.89 L230.84,329.90 L231.24,329.91 L231.63,329.92 L232.03,329.93 L232.43,329.94 L232.83,329.95 L233.23,329.97 L233.63,329.98 L234.03,329.99 L234.43,330.00 L234.83,330.01 L235.23,330.02 L235.63,330.03 L236.03,330.04 L236.10,330.05 M235.50,330.03 L235.63,330.03 L236.03,330.04 L236.43,330.06 L236.82,330.07 L237.22,330.08 L237.62,330.09 L238.02,330.10 L238.42,330.12 L238.82,330.13 L239.22,330.14 L239.62,330.15 L240.02,330.17 L240.42,330.18 L240.82,330.19 L241.22,330.20 L241.62,330.22 L242.01,330.23 L242.41,330.24 L242.81,330.26 L243.21,330.27 L243.61,330.28 L244.01,330.30 L244.41,330.31 L244.81,330.33 L245.21,330.34 L245.61,330.35 L246.01,330.37 L246.10,330.37 M245.50,330.35 L245.61,330.35 L246.01,330.37 L246.41,330.38 L246.80,330.40 L247.20,330.41 L247.60,330.43 L248.00,330.44 L248.40,330.45 L248.80,330.47 L249.20,330.48 L249.60,330.50 L250.00,330.51 L250.40,330.53 L250.80,330.54 L251.20,330.56 L251.60,330.58 L251.99,330.59 L252.39,330.61 L252.79,330.62 L253.19,330.64 L253.59,330.65 L253.99,330.67 L254.39,330.69 L254.79,330.70 L255.19,330.72 L255.59,330.73 L255.99,330.75 L256.10,330.75 M255.50,330.73 L255.59,330.73 L255.99,330.75 L256.39,330.77 L256.79,330.78 L257.18,330.80 L257.58,330.82 L257.98,330.83 L258.38,330.85 L258.78,330.86 L259.18,330.88 L259.58,330.90 L259.98,330.92 L260.38,330.93 L260.78,330.95 L261.18,330.97 L261.58,330.98 L261.98,331.00 L262.37,331.02 L262.77,331.04 L263.17,331.05 L263.57,331.07 L263.97,331.09 L264.37,331.10 L264.77,331.12 L265.17,331.14 L265.57,331.16 L265.97,331.18 L266.10,331.18 M265.50,331.15 L265.57,331.16 L265.97,331.18 L266.37,331.19 L266.77,331.21 L267.17,331.23 L267.56,331.25 L267.96,331.26 L268.36,331.28 L268.76,331.30 L269.16,331.32 L269.56,331.34 L269.96,331.35 L270.36,331.37 L270.76,331.39 L271.16,331.41 L271.56,331.43 L271.96,331.45 L272.36,331.46 L272.75,331.48 L273.15,331.50 L273.55,331.52 L273.95,331.54 L274.35,331.56 L274.75,331.57 L275.15,331.59 L275.55,331.61 L275.95,331.63 L276.10,331.64 M275.50,331.61 L275.55,331.61 L275.95,331.63 L276.35,331.65 L276.75,331.67 L277.15,331.69 L277.54,331.70 L277.94,331.72 L278.34,331.74 L278.74,331.76 L279.14,331.78 L279.54,331.80 L279.94,331.82 L280.34,331.84 L280.74,331.85 L281.14,331.87 L281.54,331.89 L281.94,331.91 L282.34,331.93 L282.73,331.95 L283.13,331.97 L283.53,331.99 L283.93,332.01 L284.33,332.02 L284.73,332.04 L285.13,332.06 L285.53,332.08 L285.93,332.10 L286.10,332.11 M285.50,332.08 L285.53,332.08 L285.93,332.10 L286.33,332.12 L286.73,332.14 L287.13,332.16 L287.53,332.18 L287.92,332.19 L288.32,332.21 L288.72,332.23 L289.12,332.25 L289.52,332.27 L289.92,332.29 L290.32,332.31 L290.72,332.33 L291.12,332.35 L291.52,332.36 L291.92,332.38 L292.32,332.40 L292.72,332.42 L293.11,332.44 L293.51,332.46 L293.91,332.48 L294.31,332.50 L294.71,332.52 L295.11,332.53 L295.51,332.55 L295.91,332.57 L296.10,332.58 M295.50,332.55 L295.51,332.55 L295.91,332.57 L296.31,332.59 L296.71,332.61 L297.11,332.63 L297.51,332.65 L297.91,332.66 L298.30,332.68 L298.70,332.70 L299.10,332.72 L299.50,332.74 L299.90,332.76 L300.30,332.78 L300.70,332.79 L301.10,332.81 L301.50,332.83 L301.90,332.85 L302.30,332.87 L302.70,332.88 L303.10,332.90 L303.49,332.92 L303.89,332.94 L304.29,332.96 L304.69,332.98 L305.09,332.99 L305.49,333.01 L305.89,333.03 L306.10,333.04 M305.50,333.01 L305.89,333.03 L306.29,333.05 L306.69,333.06 L307.09,333.08 L307.49,333.10 L307.89,333.12 L308.28,333.13 L308.68,333.15 L309.08,333.17 L309.48,333.19 L309.88,333.20 L310.28,333.22 L310.68,333.24 L311.08,333.26 L311.48,333.27 L311.88,333.29 L312.28,333.31 L312.68,333.32 L313.08,333.34 L313.47,333.36 L313.87,333.38 L314.27,333.39 L314.67,333.41 L315.07,333.43 L315.47,333.44 L315.87,333.46 L316.10,333.47 M315.50,333.44 L315.87,333.46 L316.27,333.47 L316.67,333.49 L317.07,333.51 L317.47,333.52 L317.87,333.54 L318.27,333.56 L318.66,333.57 L319.06,333.59 L319.46,333.60 L319.86,333.62 L320.26,333.63 L320.66,333.65 L321.06,333.67 L321.46,333.68 L321.86,333.70 L322.26,333.71 L322.66,333.73 L323.06,333.74 L323.46,333.76 L323.85,333.77 L324.25,333.79 L324.65,333.80 L325.05,333.82 L325.45,333.83 L325.85,333.85 L326.10,333.85 M325.50,333.83 L325.85,333.85 L326.25,333.86 L326.65,333.87 L327.05,333.89 L327.45,333.90 L327.85,333.92 L328.25,333.93 L328.65,333.94 L329.04,333.96 L329.44,333.97 L329.84,333.99 L330.24,334.00 L330.64,334.01 L331.04,334.03 L331.44,334.04 L331.84,334.05 L332.24,334.06 L332.64,334.08 L333.04,334.09 L333.44,334.10 L333.84,334.12 L334.23,334.13 L334.63,334.14 L335.03,334.15 L335.43,334.16 L335.83,334.18 L336.10,334.18 M335.50,334.17 L335.83,334.18 L336.23,334.19 L336.63,334.20 L337.03,334.21 L337.43,334.22 L337.83,334.23 L338.23,334.25 L338.63,334.26 L339.03,334.27 L339.42,334.28 L339.82,334.29 L340.22,334.30 L340.62,334.31 L341.02,334.32 L341.42,334.33 L341.82,334.34 L342.22,334.35 L342.62,334.36 L343.02,334.37 L343.42,334.38 L343.82,334.39 L344.21,334.40 L344.61,334.41 L345.01,334.42 L345.41,334.43 L345.81,334.44 L346.10,334.44 M345.50,334.43 L345.81,334.44 L346.21,334.45 L346.61,334.45 L347.01,334.46 L347.41,334.47 L347.81,334.48 L348.21,334.49 L348.61,334.49 L349.01,334.50 L349.40,334.51 L349.80,334.52 L350.20,334.52 L350.60,334.53 L351.00,334.54 L351.40,334.55 L351.80,334.55 L352.20,334.56 L352.60,334.57 L353.00,334.57 L353.40,334.58 L353.80,334.58 L354.20,334.59 L354.59,334.60 L354.99,334.60 L355.39,334.61 L355.79,334.61 L356.10,334.62 M355.50,334.61 L355.79,334.61 L356.19,334.62 L356.59,334.62 L356.99,334.63 L357.39,334.63 L357.79,334.64 L358.19,334.64 L358.59,334.64 L358.99,334.65 L359.39,334.65 L359.78,334.66 L360.18,334.66 L360.58,334.66 L360.98,334.67 L361.38,334.67 L361.78,334.68 L362.18,334.68 L362.58,334.68 L362.98,334.68 L363.38,334.69 L363.78,334.69 L364.18,334.69 L364.58,334.69 L364.97,334.70 L365.37,334.70 L365.77,334.70 L366.10,334.70 M365.50,334.70 L365.77,334.70 L366.17,334.70 L366.57,334.71 L366.97,334.71 L367.37,334.71 L367.77,334.71 L368.17,334.71 L368.57,334.71 L368.97,334.72 L369.37,334.72 L369.77,334.72 L370.16,334.72 L370.56,334.72 L370.96,334.72 L371.36,334.72 L371.76,334.72 L372.16,334.72 L372.56,334.72 L372.96,334.72 L373.36,334.72 L373.76,334.72 L374.16,334.72 L374.56,334.72 L374.95,334.72 L375.35,334.72 L375.75,334.72 L376.10,334.72 M375.50,334.72 L375.75,334.72 L376.15,334.72 L376.55,334.72 L376.95,334.72 L377.35,334.72 L377.75,334.72 L378.15,334.72 L378.55,334.72 L378.95,334.72 L379.35,334.72 L379.75,334.72 L380.14,334.72 L380.54,334.72 L380.94,334.72 L381.34,334.72 L381.74,334.71 L382.14,334.71 L382.54,334.71 L382.94,334.71 L383.34,334.71 L383.74,334.71 L384.14,334.71 L384.54,334.70 L384.94,334.70 L385.33,334.70 L385.73,334.70 L386.10,334.70 M385.50,334.70 L385.73,334.70 L386.13,334.70 L386.53,334.70 L386.93,334.69 L387.33,334.69 L387.73,334.69 L388.13,334.69 L388.53,334.69 L388.93,334.69 L389.33,334.68 L389.73,334.68 L390.13,334.68 L390.52,334.68 L390.92,334.68 L391.32,334.67 L391.72,334.67 L392.12,334.67 L392.52,334.67 L392.92,334.66 L393.32,334.66 L393.72,334.66 L394.12,334.66 L394.52,334.65 L394.92,334.65 L395.32,334.65 L395.71,334.65 L396.10,334.65 M395.50,334.65 L395.71,334.65 L396.11,334.65 L396.51,334.64 L396.91,334.64 L397.31,334.64 L397.71,334.64 L398.11,334.63 L398.51,334.63 L398.91,334.63 L399.31,334.63 L399.71,334.62 L400.00,334.62" stroke="#a52a2a" stroke-width="1.85" fill="none" stroke-linejoin="round"/>
<path d="M95.50,332.18 L96.14,332.14 L96.77,332.10 L97.41,332.07 L98.05,332.03 L98.68,331.99 L99.32,331.95 L99.95,331.91 L100.59,331.87 M106.88,331.46 L107.51,331.42 L108.15,331.37 L108.79,331.33 L109.42,331.28 L110.06,331.24 L110.69,331.19 L111.33,331.15 L111.96,331.10 M118.25,330.63 L118.88,330.58 L119.52,330.54 L120.15,330.49 L120.79,330.44 L121.43,330.39 L122.06,330.34 L122.70,330.28 L123.33,330.23 M129.61,329.72 L130.25,329.67 L130.88,329.61 L131.52,329.56 L132.15,329.51 L132.79,329.45 L133.42,329.40 L134.06,329.34 L134.69,329.29 M140.97,328.74 L141.60,328.69 L142.24,328.63 L142.87,328.57 L143.51,328.52 L144.14,328.46 L144.78,328.41 L145.41,328.35 L146.05,328.29 M152.32,327.73 L152.96,327.67 L153.59,327.61 L154.23,327.56 L154.86,327.50 L155.50,327.44 L156.13,327.38 L156.77,327.33 L157.40,327.27 M163.68,326.70 L164.31,326.64 L164.95,326.59 L165.58,326.53 L166.22,326.47 L166.85,326.41 L167.49,326.36 L168.12,326.30 L168.76,326.24 M175.03,325.68 L175.67,325.63 L176.30,325.57 L176.94,325.52 L177.57,325.46 L178.21,325.41 L178.84,325.35 L179.48,325.29 L180.11,325.24 M186.39,324.70 L187.02,324.65 L187.66,324.60 L188.30,324.54 L188.93,324.49 L189.57,324.44 L190.20,324.39 L190.84,324.33 L191.47,324.28 M197.75,323.78 L198.39,323.73 L199.02,323.69 L199.66,323.64 L200.29,323.59 L200.93,323.54 L201.57,323.49 L202.20,323.44 L202.84,323.40 M209.12,322.95 L209.76,322.90 L210.39,322.86 L211.03,322.82 L211.67,322.78 L212.30,322.73 L212.94,322.69 L213.57,322.65 L214.21,322.61 M220.50,322.22 L221.13,322.19 L221.77,322.15 L222.41,322.11 L223.04,322.08 L223.68,322.04 L224.32,322.01 L224.95,321.97 L225.59,321.94 M231.88,321.63 L232.52,321.60 L233.16,321.58 L233.79,321.55 L234.43,321.52 L235.07,321.50 L235.70,321.47 L236.34,321.44 L236.98,321.42 M240.65,321.29 L241.29,321.26 L241.92,321.24 L242.56,321.22 L243.20,321.20 L243.84,321.18 L244.47,321.16 L245.11,321.15 L245.75,321.13 M252.05,320.98 L252.68,320.96 L253.32,320.95 L253.96,320.94 L254.60,320.93 L255.23,320.92 L255.87,320.91 L256.51,320.90 L257.14,320.89 M263.44,320.82 L264.08,320.81 L264.72,320.81 L265.36,320.81 L265.99,320.80 L266.63,320.80 L267.27,320.80 L267.91,320.80 L268.54,320.80 M274.84,320.80 L275.49,320.81 L276.14,320.81 L276.79,320.81 L277.43,320.82 L278.08,320.82 L278.73,320.83 L279.37,320.83 M279.37,320.83 L280.01,320.84 L280.65,320.85 L281.29,320.85 L281.92,320.86 L282.56,320.87 L283.20,320.87 L283.84,320.88 L284.47,320.89 M290.77,321.00 L291.41,321.01 L292.05,321.02 L292.69,321.03 L293.32,321.05 L293.96,321.06 L294.60,321.08 L295.23,321.09 L295.87,321.11 M302.17,321.27 L302.68,321.29 M302.68,321.29 L303.31,321.31 L303.95,321.33 L304.59,321.35 L305.23,321.36 L305.86,321.39 L306.50,321.41 L307.14,321.43 L307.77,321.45 M314.07,321.67 L314.71,321.70 L315.34,321.72 L315.98,321.75 L316.62,321.77 L317.26,321.80 L317.89,321.82 L318.53,321.85 L319.17,321.88 M319.40,321.89 L320.04,321.91 L320.67,321.94 L321.31,321.97 L321.95,321.99 L322.58,322.02 L323.22,322.05 L323.86,322.08 L324.49,322.11" stroke="#a52a2a" stroke-width="1.85" fill="none"/>
<path d="M330.79,322.40 L331.34,322.43 L331.89,322.46 L332.45,322.49 M332.45,322.49 L333.09,322.52 L333.72,322.55 L334.36,322.58 L335.00,322.62 L335.63,322.65 L336.27,322.68 L336.91,322.71 L337.54,322.75 M343.15,323.05 L343.79,323.09 L344.43,323.12 L345.06,323.16 L345.70,323.20 L346.34,323.23 L346.97,323.27 L347.61,323.31 L348.25,323.34 M352.23,323.58 L352.87,323.62 L353.50,323.66 L354.14,323.69 L354.77,323.73 L355.41,323.77 L356.05,323.81 L356.68,323.85 L357.32,323.89 M360.11,324.07 L360.74,324.11 L361.38,324.15 L362.01,324.19 L362.65,324.23 L363.29,324.27 L363.92,324.31 L364.56,324.35 L365.20,324.39 M368.06,324.58 L368.72,324.62 L369.37,324.67 L370.03,324.71 L370.68,324.75 L371.34,324.80 L371.99,324.84 L372.64,324.89 L373.30,324.93 M375.76,325.10 L376.41,325.14 L377.07,325.19 L377.72,325.23 L378.37,325.28 L379.02,325.32 L379.67,325.37 L380.32,325.41 L380.98,325.46 M383.43,325.63 L384.08,325.68 L384.73,325.72 L385.38,325.77 L386.03,325.81 L386.68,325.86 L387.33,325.91 L387.98,325.95 L388.63,326.00 M391.07,326.17 L391.72,326.22 L392.37,326.27 L393.02,326.31 L393.66,326.36 L394.31,326.40 L394.96,326.45 L395.61,326.50 L396.25,326.55" stroke="#a52a2a" stroke-width="1.90" fill="none"/>
<path d="M398.69,326.72 L399.34,326.77 L399.98,326.82 L400.63,326.86 L401.27,326.91 L401.92,326.96 L402.56,327.00 L403.21,327.05 L403.85,327.10 M406.28,327.27 L406.92,327.32 L407.57,327.37 L408.21,327.42 L408.85,327.46 L409.50,327.51 L410.14,327.56 L410.78,327.60 L411.42,327.65 M413.85,327.83 L414.49,327.88 L415.13,327.92 L415.77,327.97 L416.41,328.02 L417.05,328.06 L417.69,328.11 L418.33,328.16 L418.97,328.20 M421.38,328.38 L422.02,328.43 L422.66,328.47 L423.30,328.52 L423.94,328.57 L424.58,328.61 L425.21,328.66 L425.85,328.71 L426.49,328.75 M428.89,328.93 L429.53,328.97 L430.17,329.02 L430.80,329.06 L431.44,329.11 L432.08,329.16 L432.71,329.20 L433.35,329.25 L433.98,329.29 M436.38,329.46 L437.01,329.51 L437.65,329.55 L438.28,329.60 L438.92,329.64 L439.55,329.69 L440.18,329.73 L440.82,329.78 L441.45,329.82 M443.84,329.99 L444.47,330.03 L445.10,330.08 L445.73,330.12 L446.37,330.16 L447.00,330.21 L447.63,330.25 L448.26,330.30 L448.89,330.34 M451.27,330.50 L451.90,330.54 L452.52,330.59 L453.15,330.63 L453.77,330.67 L454.40,330.71" stroke="#a52a2a" stroke-width="1.95" fill="none"/>
</g>
<path d="M95.10,10.50 H453.90" stroke="#000" stroke-width="0.85"/>
<path d="M95.10,335.00 H453.90" stroke="#000" stroke-width="1.25"/>
<path d="M95.55,10.50 V335.60" stroke="#000" stroke-width="0.65"/>
<path d="M453.50,10.50 V335.70" stroke="#000" stroke-width="0.9"/>
<path d="M175,112.00 H199" stroke="#ff0000" stroke-width="1.9"/>
<path d="M175,133.35 H199" stroke="#0000ff" stroke-width="1.9"/>
<path d="M175,154.70 H199" stroke="#228b22" stroke-width="1.9"/>
<path d="M175,176.05 H199" stroke="#a52a2a" stroke-width="1.9"/>
<g fill="#000" filter="url(#idf)">
<g transform="translate(125.80,118.60) scale(0.9300,1.0400)"><text text-anchor="start" font-family="Liberation Sans, sans-serif" font-size="22.00" letter-spacing="0.50" stroke="#000" stroke-width="0.3">n=1</text><rect x="26.73" y="-2.53" width="4.72" height="4.03" fill="#fff"/><rect x="33.73" y="-2.53" width="4.98" height="4.03" fill="#fff"/></g>
<g transform="translate(125.80,139.95) scale(0.9300,1.0400)"><text text-anchor="start" font-family="Liberation Sans, sans-serif" font-size="22.00" letter-spacing="0.50" stroke="#000" stroke-width="0.3">n=2</text></g>
<g transform="translate(125.80,161.30) scale(0.9300,1.0400)"><text text-anchor="start" font-family="Liberation Sans, sans-serif" font-size="22.00" letter-spacing="0.50" stroke="#000" stroke-width="0.3">n=3</text></g>
<g transform="translate(125.80,182.65) scale(0.9300,1.0400)"><text text-anchor="start" font-family="Liberation Sans, sans-serif" font-size="22.00" letter-spacing="0.50" stroke="#000" stroke-width="0.3">n=4</text></g>
<g transform="translate(82.70,342.00) scale(0.9300,1.0400)"><text text-anchor="end" font-family="Liberation Sans, sans-serif" font-size="22.00" letter-spacing="0.50" stroke="#000" stroke-width="0.3">0</text></g>
<g transform="translate(82.70,277.20) scale(0.9300,1.0400)"><text text-anchor="end" font-family="Liberation Sans, sans-serif" font-size="22.00" letter-spacing="0.50" stroke="#000" stroke-width="0.3">0.05</text></g>
<g transform="translate(82.70,212.40) scale(0.9300,1.0400)"><text text-anchor="end" font-family="Liberation Sans, sans-serif" font-size="22.00" letter-spacing="0.50" stroke="#000" stroke-width="0.3">0.1</text><rect x="-12.09" y="-2.53" width="4.72" height="4.03" fill="#fff"/><rect x="-5.09" y="-2.53" width="4.98" height="4.03" fill="#fff"/></g>
<g transform="translate(82.70,147.60) scale(0.9300,1.0400)"><text text-anchor="end" font-family="Liberation Sans, sans-serif" font-size="22.00" letter-spacing="0.50" stroke="#000" stroke-width="0.3">0.15</text><rect x="-24.83" y="-2.53" width="4.72" height="4.03" fill="#fff"/><rect x="-17.82" y="-2.53" width="4.98" height="4.03" fill="#fff"/></g>
<g transform="translate(82.70,82.80) scale(0.9300,1.0400)"><text text-anchor="end" font-family="Liberation Sans, sans-serif" font-size="22.00" letter-spacing="0.50" stroke="#000" stroke-width="0.3">0.2</text></g>
<g transform="translate(82.70,18.00) scale(0.9300,1.0400)"><text text-anchor="end" font-family="Liberation Sans, sans-serif" font-size="22.00" letter-spacing="0.50" stroke="#000" stroke-width="0.3">0.25</text></g>
<g transform="translate(98.80,363.00) scale(0.9300,1.0400)"><text text-anchor="middle" font-family="Liberation Sans, sans-serif" font-size="22.00" letter-spacing="0.50" stroke="#000" stroke-width="0.3">1</text><rect x="-5.72" y="-2.53" width="4.72" height="4.03" fill="#fff"/><rect x="1.28" y="-2.53" width="4.98" height="4.03" fill="#fff"/></g>
<g transform="translate(236.38,363.00) scale(0.9300,1.0400)"><text text-anchor="middle" font-family="Liberation Sans, sans-serif" font-size="22.00" letter-spacing="0.50" stroke="#000" stroke-width="0.3">10</text><rect x="-12.09" y="-2.53" width="4.72" height="4.03" fill="#fff"/><rect x="-5.09" y="-2.53" width="4.98" height="4.03" fill="#fff"/></g>
<g transform="translate(373.97,363.00) scale(0.9300,1.0400)"><text text-anchor="middle" font-family="Liberation Sans, sans-serif" font-size="22.00" letter-spacing="0.50" stroke="#000" stroke-width="0.3">100</text><rect x="-18.46" y="-2.53" width="4.72" height="4.03" fill="#fff"/><rect x="-11.46" y="-2.53" width="4.98" height="4.03" fill="#fff"/></g>
<g transform="translate(259.80,393.80) scale(0.9300,1.0000)"><text text-anchor="start" font-family="Liberation Sans, sans-serif" font-size="22.00" letter-spacing="0.50" stroke="#000" stroke-width="0.3">t/</text></g>
<g transform="translate(270.30,393.80) scale(1.1700,1.0000)"><text text-anchor="start" font-family="Liberation Serif, serif" font-size="24.00" letter-spacing="0.50" stroke="#000" stroke-width="0.3">τ</text></g>
<g transform="translate(280.90,399.80) scale(0.9300,1.0000)"><text text-anchor="start" font-family="Liberation Sans, sans-serif" font-size="17.60" letter-spacing="0.50" stroke="#000" stroke-width="0.3">s</text></g>
</g>
<g filter="url(#idf)"><path d="M6.1,213.80 H25.8" stroke="#000" stroke-width="1.2" fill="none"/>
<path d="M6.1,184.50 H25.8" stroke="#000" stroke-width="1.2" fill="none"/>
<path d="M6.1,161.40 H25.8" stroke="#000" stroke-width="1.2" fill="none"/>
<path d="M6.1,131.15 H25.8" stroke="#000" stroke-width="1.2" fill="none"/>
<path d="M23.3,177.4 L2.6,167.4" stroke="#000" stroke-width="1.45" fill="none" stroke-linecap="butt"/>
<path d="M9.00,146.00 C8.88,145.88 8.58,145.42 8.30,145.30 C8.02,145.18 7.60,145.13 7.30,145.30 C7.00,145.47 6.57,145.79 6.50,146.30 C6.43,146.81 6.46,147.62 6.87,148.36 C7.28,149.10 8.12,150.10 8.96,150.75 C9.81,151.40 10.85,151.79 11.94,152.24 C13.03,152.69 14.43,153.04 15.52,153.43 C16.61,153.82 17.52,154.02 18.50,154.60 C19.48,155.18 20.92,156.52 21.40,156.90" stroke="#000" stroke-width="1.00" fill="none" stroke-linecap="round" stroke-linejoin="round"/><path d="M7.60,149.40 C7.83,149.62 8.24,150.28 8.96,150.75 C9.68,151.22 10.85,151.79 11.94,152.24 C13.03,152.69 14.63,153.12 15.52,153.43 C16.41,153.74 17.00,153.99 17.30,154.10" stroke="#000" stroke-width="1.65" fill="none" stroke-linecap="round" stroke-linejoin="round"/><path d="M9.00,146.00 C8.88,145.88 8.58,145.42 8.30,145.30 C8.02,145.18 7.59,145.13 7.30,145.30 C7.01,145.47 6.62,145.79 6.55,146.30 C6.48,146.81 6.70,147.84 6.87,148.36 C7.04,148.88 7.48,149.23 7.60,149.40" stroke="#000" stroke-width="1.35" fill="none" stroke-linecap="round" stroke-linejoin="round"/><path d="M19.30,155.00 C19.47,154.48 19.99,152.91 20.30,151.90 C20.61,150.89 21.05,149.83 21.15,148.95 C21.25,148.07 21.17,147.27 20.90,146.60 C20.62,145.93 20.00,145.30 19.50,144.90 C19.00,144.50 18.17,144.32 17.90,144.20" stroke="#000" stroke-width="0.95" fill="none" stroke-linecap="round" stroke-linejoin="round"/><path d="M20.00,153.00 C20.05,152.82 20.11,152.58 20.30,151.90 C20.49,151.22 21.05,149.83 21.15,148.95 C21.25,148.07 21.02,147.12 20.90,146.60 C20.77,146.07 20.48,145.93 20.40,145.80" stroke="#000" stroke-width="1.60" fill="none" stroke-linecap="round" stroke-linejoin="round"/><circle cx="9.0" cy="146.20" r="1.25" fill="#000"/>
<path d="M9.00,199.60 C8.88,199.48 8.58,199.02 8.30,198.90 C8.02,198.78 7.60,198.73 7.30,198.90 C7.00,199.07 6.57,199.39 6.50,199.90 C6.43,200.41 6.46,201.22 6.87,201.96 C7.28,202.70 8.12,203.70 8.96,204.35 C9.81,205.00 10.85,205.39 11.94,205.84 C13.03,206.29 14.43,206.64 15.52,207.03 C16.61,207.42 17.52,207.62 18.50,208.20 C19.48,208.78 20.92,210.12 21.40,210.50" stroke="#000" stroke-width="1.00" fill="none" stroke-linecap="round" stroke-linejoin="round"/><path d="M7.60,203.00 C7.83,203.22 8.24,203.88 8.96,204.35 C9.68,204.82 10.85,205.39 11.94,205.84 C13.03,206.29 14.63,206.72 15.52,207.03 C16.41,207.34 17.00,207.59 17.30,207.70" stroke="#000" stroke-width="1.65" fill="none" stroke-linecap="round" stroke-linejoin="round"/><path d="M9.00,199.60 C8.88,199.48 8.58,199.02 8.30,198.90 C8.02,198.78 7.59,198.73 7.30,198.90 C7.01,199.07 6.62,199.39 6.55,199.90 C6.48,200.41 6.70,201.44 6.87,201.96 C7.04,202.48 7.48,202.83 7.60,203.00" stroke="#000" stroke-width="1.35" fill="none" stroke-linecap="round" stroke-linejoin="round"/><path d="M19.30,208.60 C19.47,208.08 19.99,206.51 20.30,205.50 C20.61,204.49 21.05,203.43 21.15,202.55 C21.25,201.67 21.17,200.88 20.90,200.20 C20.62,199.52 20.00,198.90 19.50,198.50 C19.00,198.10 18.17,197.92 17.90,197.80" stroke="#000" stroke-width="0.95" fill="none" stroke-linecap="round" stroke-linejoin="round"/><path d="M20.00,206.60 C20.05,206.42 20.11,206.18 20.30,205.50 C20.49,204.82 21.05,203.43 21.15,202.55 C21.25,201.67 21.02,200.72 20.90,200.20 C20.77,199.67 20.48,199.53 20.40,199.40" stroke="#000" stroke-width="1.60" fill="none" stroke-linecap="round" stroke-linejoin="round"/><circle cx="9.0" cy="199.80" r="1.25" fill="#000"/>
<text transform="translate(27.70,196.30) rotate(-90) scale(0.9200,0.9100)" font-family="Liberation Sans, sans-serif" font-size="17.60" fill="#000">n</text>
<text transform="translate(28.00,143.70) rotate(-90) scale(0.9200,0.9800)" font-family="Liberation Sans, sans-serif" font-size="17.60" fill="#000">0</text></g>
</svg>
</body></html>
